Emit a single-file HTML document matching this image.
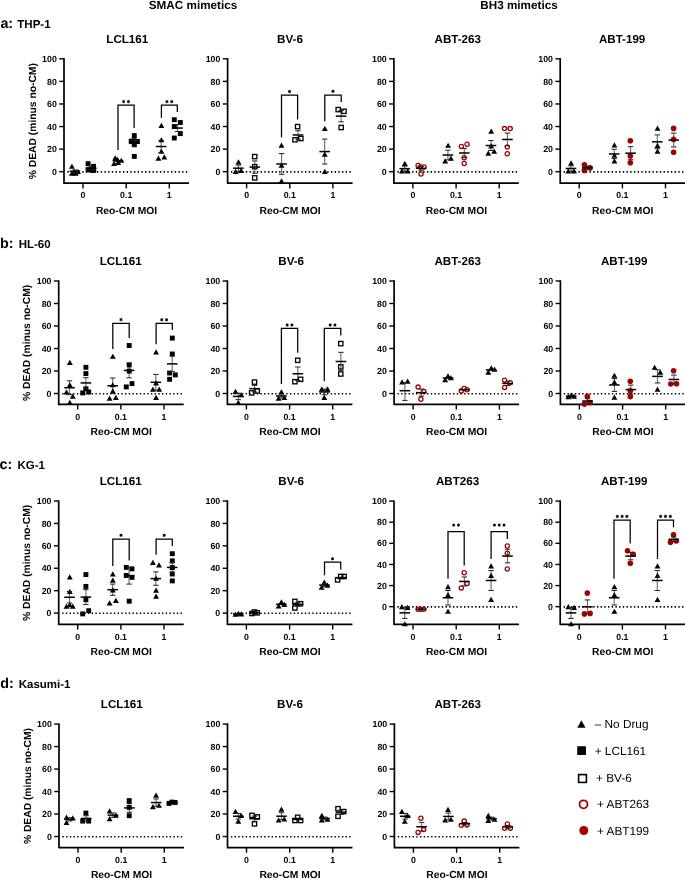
<!DOCTYPE html>
<html><head><meta charset="utf-8"><style>
html,body{margin:0;padding:0;background:#fff;}
svg{display:block;font-family:"Liberation Sans", sans-serif;will-change:transform;text-rendering:geometricPrecision;}
</style></head><body>
<svg width="685" height="879" viewBox="0 0 685 879">
<rect width="685" height="879" fill="#fff"/>
<text x="193.00" y="9.00" font-size="11.7" text-anchor="middle" font-weight="bold" fill="#000" >SMAC mimetics</text>
<text x="519.00" y="9.00" font-size="11.7" text-anchor="middle" font-weight="bold" fill="#000" >BH3 mimetics</text>
<line x1="64.00" y1="58.10" x2="64.00" y2="183.90" stroke="#000" stroke-width="1.7" />
<line x1="64.00" y1="183.20" x2="189.00" y2="183.20" stroke="#000" stroke-width="1.7" />
<line x1="59.20" y1="58.80" x2="64.00" y2="58.80" stroke="#000" stroke-width="1.4" />
<text x="56.80" y="61.95" font-size="8.8" text-anchor="end" font-weight="bold" fill="#000" >100</text>
<line x1="59.20" y1="81.38" x2="64.00" y2="81.38" stroke="#000" stroke-width="1.4" />
<text x="56.80" y="84.53" font-size="8.8" text-anchor="end" font-weight="bold" fill="#000" >80</text>
<line x1="59.20" y1="103.96" x2="64.00" y2="103.96" stroke="#000" stroke-width="1.4" />
<text x="56.80" y="107.11" font-size="8.8" text-anchor="end" font-weight="bold" fill="#000" >60</text>
<line x1="59.20" y1="126.54" x2="64.00" y2="126.54" stroke="#000" stroke-width="1.4" />
<text x="56.80" y="129.69" font-size="8.8" text-anchor="end" font-weight="bold" fill="#000" >40</text>
<line x1="59.20" y1="149.12" x2="64.00" y2="149.12" stroke="#000" stroke-width="1.4" />
<text x="56.80" y="152.27" font-size="8.8" text-anchor="end" font-weight="bold" fill="#000" >20</text>
<line x1="59.20" y1="171.70" x2="64.00" y2="171.70" stroke="#000" stroke-width="1.4" />
<text x="56.80" y="174.85" font-size="8.8" text-anchor="end" font-weight="bold" fill="#000" >0</text>
<line x1="83.00" y1="183.20" x2="83.00" y2="188.40" stroke="#000" stroke-width="1.4" />
<text x="83.00" y="198.10" font-size="8.8" text-anchor="middle" font-weight="bold" fill="#000" >0</text>
<line x1="126.20" y1="183.20" x2="126.20" y2="188.40" stroke="#000" stroke-width="1.4" />
<text x="126.20" y="198.10" font-size="8.8" text-anchor="middle" font-weight="bold" fill="#000" >0.1</text>
<line x1="169.30" y1="183.20" x2="169.30" y2="188.40" stroke="#000" stroke-width="1.4" />
<text x="169.30" y="198.10" font-size="8.8" text-anchor="middle" font-weight="bold" fill="#000" >1</text>
<line x1="67.40" y1="171.90" x2="189.00" y2="171.90" stroke="#000" stroke-width="1.6" stroke-dasharray="1.4 2.3"/>
<text x="127.25" y="42.65" font-size="11.6" text-anchor="middle" font-weight="bold" fill="#000" >LCL161</text>
<text x="126.50" y="214.40" font-size="10.3" text-anchor="middle" font-weight="bold" fill="#000" >Reo-CM MOI</text>
<text x="0" y="0" font-size="10.3" text-anchor="middle" font-weight="bold" fill="#000" transform="translate(35.70,121.20) rotate(-90)">% DEAD (minus no-CM)</text>
<line x1="74.80" y1="170.02" x2="74.80" y2="172.54" stroke="#6a6a6a" stroke-width="1.1" />
<path d="M71.90,163.64L74.85,168.84L68.95,168.84Z" fill="#000"/>
<path d="M71.90,170.54L74.85,175.74L68.95,175.74Z" fill="#000"/>
<path d="M75.70,170.54L78.65,175.74L72.75,175.74Z" fill="#000"/>
<path d="M78.00,168.74L80.95,173.94L75.05,173.94Z" fill="#000"/>
<path d="M74.50,168.64L77.45,173.84L71.55,173.84Z" fill="#000"/>
<line x1="72.10" y1="170.02" x2="77.50" y2="170.02" stroke="#222" stroke-width="1.0" />
<line x1="72.10" y1="172.54" x2="77.50" y2="172.54" stroke="#222" stroke-width="1.0" />
<line x1="69.50" y1="171.28" x2="80.10" y2="171.28" stroke="#000" stroke-width="1.5" />
<line x1="91.20" y1="166.74" x2="91.20" y2="169.38" stroke="#6a6a6a" stroke-width="1.1" />
<rect x="85.65" y="161.25" width="4.9" height="4.9" fill="#000"/>
<rect x="85.65" y="167.35" width="4.9" height="4.9" fill="#000"/>
<rect x="89.05" y="167.55" width="4.9" height="4.9" fill="#000"/>
<rect x="91.05" y="163.85" width="4.9" height="4.9" fill="#000"/>
<rect x="91.35" y="168.05" width="4.9" height="4.9" fill="#000"/>
<line x1="88.50" y1="166.74" x2="93.90" y2="166.74" stroke="#222" stroke-width="1.0" />
<line x1="88.50" y1="169.38" x2="93.90" y2="169.38" stroke="#222" stroke-width="1.0" />
<line x1="85.90" y1="168.06" x2="96.50" y2="168.06" stroke="#000" stroke-width="1.5" />
<line x1="118.00" y1="159.86" x2="118.00" y2="161.86" stroke="#6a6a6a" stroke-width="1.1" />
<path d="M115.20,155.24L118.15,160.44L112.25,160.44Z" fill="#000"/>
<path d="M114.10,160.74L117.05,165.94L111.15,165.94Z" fill="#000"/>
<path d="M118.20,159.74L121.15,164.94L115.25,164.94Z" fill="#000"/>
<path d="M121.30,157.64L124.25,162.84L118.35,162.84Z" fill="#000"/>
<path d="M117.50,156.64L120.45,161.84L114.55,161.84Z" fill="#000"/>
<line x1="112.70" y1="160.86" x2="123.30" y2="160.86" stroke="#000" stroke-width="1.5" />
<line x1="134.40" y1="140.46" x2="134.40" y2="146.21" stroke="#6a6a6a" stroke-width="1.1" />
<rect x="131.85" y="133.15" width="4.9" height="4.9" fill="#000"/>
<rect x="128.75" y="138.65" width="4.9" height="4.9" fill="#000"/>
<rect x="131.85" y="138.25" width="4.9" height="4.9" fill="#000"/>
<rect x="134.95" y="138.95" width="4.9" height="4.9" fill="#000"/>
<rect x="131.85" y="142.35" width="4.9" height="4.9" fill="#000"/>
<rect x="131.85" y="153.95" width="4.9" height="4.9" fill="#000"/>
<line x1="131.70" y1="140.46" x2="137.10" y2="140.46" stroke="#222" stroke-width="1.0" />
<line x1="131.70" y1="146.21" x2="137.10" y2="146.21" stroke="#222" stroke-width="1.0" />
<line x1="129.10" y1="143.33" x2="139.70" y2="143.33" stroke="#000" stroke-width="1.5" />
<line x1="161.10" y1="140.39" x2="161.10" y2="152.65" stroke="#6a6a6a" stroke-width="1.1" />
<path d="M161.40,122.84L164.35,128.04L158.45,128.04Z" fill="#000"/>
<path d="M161.40,137.14L164.35,142.34L158.45,142.34Z" fill="#000"/>
<path d="M161.40,148.64L164.35,153.84L158.45,153.84Z" fill="#000"/>
<path d="M158.40,155.44L161.35,160.64L155.45,160.64Z" fill="#000"/>
<path d="M164.30,154.24L167.25,159.44L161.35,159.44Z" fill="#000"/>
<line x1="158.40" y1="140.39" x2="163.80" y2="140.39" stroke="#222" stroke-width="1.0" />
<line x1="158.40" y1="152.65" x2="163.80" y2="152.65" stroke="#222" stroke-width="1.0" />
<line x1="155.80" y1="146.52" x2="166.40" y2="146.52" stroke="#000" stroke-width="1.5" />
<line x1="177.50" y1="124.65" x2="177.50" y2="131.47" stroke="#6a6a6a" stroke-width="1.1" />
<rect x="171.85" y="117.25" width="4.9" height="4.9" fill="#000"/>
<rect x="177.85" y="120.05" width="4.9" height="4.9" fill="#000"/>
<rect x="171.85" y="124.05" width="4.9" height="4.9" fill="#000"/>
<rect x="177.85" y="131.15" width="4.9" height="4.9" fill="#000"/>
<rect x="171.85" y="135.55" width="4.9" height="4.9" fill="#000"/>
<line x1="174.80" y1="124.65" x2="180.20" y2="124.65" stroke="#222" stroke-width="1.0" />
<line x1="174.80" y1="131.47" x2="180.20" y2="131.47" stroke="#222" stroke-width="1.0" />
<line x1="172.20" y1="128.06" x2="182.80" y2="128.06" stroke="#000" stroke-width="1.5" />
<path d="M118.00,149.90V105.10H134.10V128.10" fill="none" stroke="#000" stroke-width="1.25"/>
<circle cx="123.65" cy="101.60" r="1.2" fill="#000"/>
<path d="M123.65,99.90L123.65,103.30M125.12,100.75L122.18,102.45M125.12,102.45L122.18,100.75" stroke="#000" stroke-width="0.7" fill="none"/>
<circle cx="128.45" cy="101.60" r="1.2" fill="#000"/>
<path d="M128.45,99.90L128.45,103.30M129.92,100.75L126.98,102.45M129.92,102.45L126.98,100.75" stroke="#000" stroke-width="0.7" fill="none"/>
<path d="M161.40,117.70V105.10H177.30V112.10" fill="none" stroke="#000" stroke-width="1.25"/>
<circle cx="166.95" cy="101.60" r="1.2" fill="#000"/>
<path d="M166.95,99.90L166.95,103.30M168.42,100.75L165.48,102.45M168.42,102.45L165.48,100.75" stroke="#000" stroke-width="0.7" fill="none"/>
<circle cx="171.75" cy="101.60" r="1.2" fill="#000"/>
<path d="M171.75,99.90L171.75,103.30M173.22,100.75L170.28,102.45M173.22,102.45L170.28,100.75" stroke="#000" stroke-width="0.7" fill="none"/>
<line x1="227.60" y1="58.10" x2="227.60" y2="183.90" stroke="#000" stroke-width="1.7" />
<line x1="227.60" y1="183.20" x2="352.60" y2="183.20" stroke="#000" stroke-width="1.7" />
<line x1="222.80" y1="58.80" x2="227.60" y2="58.80" stroke="#000" stroke-width="1.4" />
<text x="220.40" y="61.95" font-size="8.8" text-anchor="end" font-weight="bold" fill="#000" >100</text>
<line x1="222.80" y1="81.38" x2="227.60" y2="81.38" stroke="#000" stroke-width="1.4" />
<text x="220.40" y="84.53" font-size="8.8" text-anchor="end" font-weight="bold" fill="#000" >80</text>
<line x1="222.80" y1="103.96" x2="227.60" y2="103.96" stroke="#000" stroke-width="1.4" />
<text x="220.40" y="107.11" font-size="8.8" text-anchor="end" font-weight="bold" fill="#000" >60</text>
<line x1="222.80" y1="126.54" x2="227.60" y2="126.54" stroke="#000" stroke-width="1.4" />
<text x="220.40" y="129.69" font-size="8.8" text-anchor="end" font-weight="bold" fill="#000" >40</text>
<line x1="222.80" y1="149.12" x2="227.60" y2="149.12" stroke="#000" stroke-width="1.4" />
<text x="220.40" y="152.27" font-size="8.8" text-anchor="end" font-weight="bold" fill="#000" >20</text>
<line x1="222.80" y1="171.70" x2="227.60" y2="171.70" stroke="#000" stroke-width="1.4" />
<text x="220.40" y="174.85" font-size="8.8" text-anchor="end" font-weight="bold" fill="#000" >0</text>
<line x1="246.60" y1="183.20" x2="246.60" y2="188.40" stroke="#000" stroke-width="1.4" />
<text x="246.60" y="198.10" font-size="8.8" text-anchor="middle" font-weight="bold" fill="#000" >0</text>
<line x1="289.80" y1="183.20" x2="289.80" y2="188.40" stroke="#000" stroke-width="1.4" />
<text x="289.80" y="198.10" font-size="8.8" text-anchor="middle" font-weight="bold" fill="#000" >0.1</text>
<line x1="332.90" y1="183.20" x2="332.90" y2="188.40" stroke="#000" stroke-width="1.4" />
<text x="332.90" y="198.10" font-size="8.8" text-anchor="middle" font-weight="bold" fill="#000" >1</text>
<line x1="231.00" y1="171.90" x2="352.60" y2="171.90" stroke="#000" stroke-width="1.6" stroke-dasharray="1.4 2.3"/>
<text x="290.00" y="42.65" font-size="11.6" text-anchor="middle" font-weight="bold" fill="#000" >BV-6</text>
<text x="290.10" y="214.40" font-size="10.3" text-anchor="middle" font-weight="bold" fill="#000" >Reo-CM MOI</text>
<line x1="238.40" y1="165.12" x2="238.40" y2="171.21" stroke="#6a6a6a" stroke-width="1.1" />
<path d="M238.50,159.24L241.45,164.44L235.55,164.44Z" fill="#000"/>
<path d="M235.60,168.84L238.55,174.04L232.65,174.04Z" fill="#000"/>
<path d="M241.10,167.84L244.05,173.04L238.15,173.04Z" fill="#000"/>
<line x1="235.70" y1="165.12" x2="241.10" y2="165.12" stroke="#222" stroke-width="1.0" />
<line x1="235.70" y1="171.21" x2="241.10" y2="171.21" stroke="#222" stroke-width="1.0" />
<line x1="233.10" y1="168.17" x2="243.70" y2="168.17" stroke="#000" stroke-width="1.5" />
<line x1="254.80" y1="160.92" x2="254.80" y2="173.22" stroke="#6a6a6a" stroke-width="1.1" />
<rect x="252.55" y="154.45" width="4.3" height="4.3" fill="none" stroke="#000" stroke-width="1.3"/>
<rect x="252.55" y="164.55" width="4.3" height="4.3" fill="none" stroke="#000" stroke-width="1.3"/>
<rect x="252.55" y="175.75" width="4.3" height="4.3" fill="none" stroke="#000" stroke-width="1.3"/>
<line x1="252.10" y1="160.92" x2="257.50" y2="160.92" stroke="#222" stroke-width="1.0" />
<line x1="252.10" y1="173.22" x2="257.50" y2="173.22" stroke="#222" stroke-width="1.0" />
<line x1="249.50" y1="167.07" x2="260.10" y2="167.07" stroke="#000" stroke-width="1.5" />
<line x1="281.60" y1="153.58" x2="281.60" y2="174.35" stroke="#6a6a6a" stroke-width="1.1" />
<path d="M281.50,142.44L284.45,147.64L278.55,147.64Z" fill="#000"/>
<path d="M281.50,162.54L284.45,167.74L278.55,167.74Z" fill="#000"/>
<path d="M281.50,178.34L284.45,183.54L278.55,183.54Z" fill="#000"/>
<line x1="278.90" y1="153.58" x2="284.30" y2="153.58" stroke="#222" stroke-width="1.0" />
<line x1="278.90" y1="174.35" x2="284.30" y2="174.35" stroke="#222" stroke-width="1.0" />
<line x1="276.30" y1="163.97" x2="286.90" y2="163.97" stroke="#000" stroke-width="1.5" />
<line x1="298.00" y1="130.77" x2="298.00" y2="139.17" stroke="#6a6a6a" stroke-width="1.1" />
<rect x="295.45" y="124.45" width="4.3" height="4.3" fill="none" stroke="#000" stroke-width="1.3"/>
<rect x="292.85" y="137.65" width="4.3" height="4.3" fill="none" stroke="#000" stroke-width="1.3"/>
<rect x="298.75" y="136.35" width="4.3" height="4.3" fill="none" stroke="#000" stroke-width="1.3"/>
<line x1="295.30" y1="130.77" x2="300.70" y2="130.77" stroke="#222" stroke-width="1.0" />
<line x1="295.30" y1="139.17" x2="300.70" y2="139.17" stroke="#222" stroke-width="1.0" />
<line x1="292.70" y1="134.97" x2="303.30" y2="134.97" stroke="#000" stroke-width="1.5" />
<line x1="324.70" y1="139.08" x2="324.70" y2="164.05" stroke="#6a6a6a" stroke-width="1.1" />
<path d="M324.80,125.84L327.75,131.04L321.85,131.04Z" fill="#000"/>
<path d="M324.80,151.44L327.75,156.64L321.85,156.64Z" fill="#000"/>
<path d="M324.80,168.84L327.75,174.04L321.85,174.04Z" fill="#000"/>
<line x1="322.00" y1="139.08" x2="327.40" y2="139.08" stroke="#222" stroke-width="1.0" />
<line x1="322.00" y1="164.05" x2="327.40" y2="164.05" stroke="#222" stroke-width="1.0" />
<line x1="319.40" y1="151.57" x2="330.00" y2="151.57" stroke="#000" stroke-width="1.5" />
<line x1="341.10" y1="110.43" x2="341.10" y2="121.84" stroke="#6a6a6a" stroke-width="1.1" />
<rect x="336.05" y="107.45" width="4.3" height="4.3" fill="none" stroke="#000" stroke-width="1.3"/>
<rect x="341.85" y="109.15" width="4.3" height="4.3" fill="none" stroke="#000" stroke-width="1.3"/>
<rect x="339.05" y="125.35" width="4.3" height="4.3" fill="none" stroke="#000" stroke-width="1.3"/>
<line x1="338.40" y1="110.43" x2="343.80" y2="110.43" stroke="#222" stroke-width="1.0" />
<line x1="338.40" y1="121.84" x2="343.80" y2="121.84" stroke="#222" stroke-width="1.0" />
<line x1="335.80" y1="116.13" x2="346.40" y2="116.13" stroke="#000" stroke-width="1.5" />
<path d="M281.50,137.40V95.00H297.60V119.40" fill="none" stroke="#000" stroke-width="1.25"/>
<circle cx="289.55" cy="91.50" r="1.2" fill="#000"/>
<path d="M289.55,89.80L289.55,93.20M291.02,90.65L288.08,92.35M291.02,92.35L288.08,90.65" stroke="#000" stroke-width="0.7" fill="none"/>
<path d="M324.80,121.20V95.00H341.20V102.10" fill="none" stroke="#000" stroke-width="1.25"/>
<circle cx="333.00" cy="91.30" r="1.2" fill="#000"/>
<path d="M333.00,89.60L333.00,93.00M334.47,90.45L331.53,92.15M334.47,92.15L331.53,90.45" stroke="#000" stroke-width="0.7" fill="none"/>
<line x1="393.90" y1="58.10" x2="393.90" y2="183.90" stroke="#000" stroke-width="1.7" />
<line x1="393.90" y1="183.20" x2="518.90" y2="183.20" stroke="#000" stroke-width="1.7" />
<line x1="389.10" y1="58.80" x2="393.90" y2="58.80" stroke="#000" stroke-width="1.4" />
<text x="386.70" y="61.95" font-size="8.8" text-anchor="end" font-weight="bold" fill="#000" >100</text>
<line x1="389.10" y1="81.38" x2="393.90" y2="81.38" stroke="#000" stroke-width="1.4" />
<text x="386.70" y="84.53" font-size="8.8" text-anchor="end" font-weight="bold" fill="#000" >80</text>
<line x1="389.10" y1="103.96" x2="393.90" y2="103.96" stroke="#000" stroke-width="1.4" />
<text x="386.70" y="107.11" font-size="8.8" text-anchor="end" font-weight="bold" fill="#000" >60</text>
<line x1="389.10" y1="126.54" x2="393.90" y2="126.54" stroke="#000" stroke-width="1.4" />
<text x="386.70" y="129.69" font-size="8.8" text-anchor="end" font-weight="bold" fill="#000" >40</text>
<line x1="389.10" y1="149.12" x2="393.90" y2="149.12" stroke="#000" stroke-width="1.4" />
<text x="386.70" y="152.27" font-size="8.8" text-anchor="end" font-weight="bold" fill="#000" >20</text>
<line x1="389.10" y1="171.70" x2="393.90" y2="171.70" stroke="#000" stroke-width="1.4" />
<text x="386.70" y="174.85" font-size="8.8" text-anchor="end" font-weight="bold" fill="#000" >0</text>
<line x1="412.90" y1="183.20" x2="412.90" y2="188.40" stroke="#000" stroke-width="1.4" />
<text x="412.90" y="198.10" font-size="8.8" text-anchor="middle" font-weight="bold" fill="#000" >0</text>
<line x1="456.10" y1="183.20" x2="456.10" y2="188.40" stroke="#000" stroke-width="1.4" />
<text x="456.10" y="198.10" font-size="8.8" text-anchor="middle" font-weight="bold" fill="#000" >0.1</text>
<line x1="499.20" y1="183.20" x2="499.20" y2="188.40" stroke="#000" stroke-width="1.4" />
<text x="499.20" y="198.10" font-size="8.8" text-anchor="middle" font-weight="bold" fill="#000" >1</text>
<line x1="397.30" y1="171.90" x2="518.90" y2="171.90" stroke="#000" stroke-width="1.6" stroke-dasharray="1.4 2.3"/>
<text x="457.75" y="42.65" font-size="11.6" text-anchor="middle" font-weight="bold" fill="#000" >ABT-263</text>
<text x="456.40" y="214.40" font-size="10.3" text-anchor="middle" font-weight="bold" fill="#000" >Reo-CM MOI</text>
<line x1="404.70" y1="166.17" x2="404.70" y2="171.10" stroke="#6a6a6a" stroke-width="1.1" />
<path d="M404.80,160.84L407.75,166.04L401.85,166.04Z" fill="#000"/>
<path d="M402.00,168.24L404.95,173.44L399.05,173.44Z" fill="#000"/>
<path d="M407.70,168.24L410.65,173.44L404.75,173.44Z" fill="#000"/>
<line x1="402.00" y1="166.17" x2="407.40" y2="166.17" stroke="#222" stroke-width="1.0" />
<line x1="402.00" y1="171.10" x2="407.40" y2="171.10" stroke="#222" stroke-width="1.0" />
<line x1="399.40" y1="168.63" x2="410.00" y2="168.63" stroke="#000" stroke-width="1.5" />
<line x1="421.10" y1="166.40" x2="421.10" y2="170.25" stroke="#6a6a6a" stroke-width="1.1" />
<circle cx="418.10" cy="165.40" r="2.1" fill="none" stroke="#a30000" stroke-width="1.3"/>
<circle cx="424.00" cy="166.90" r="2.1" fill="none" stroke="#a30000" stroke-width="1.3"/>
<circle cx="421.00" cy="174.00" r="2.1" fill="none" stroke="#a30000" stroke-width="1.3"/>
<circle cx="420.50" cy="167.00" r="2.1" fill="none" stroke="#a30000" stroke-width="1.3"/>
<line x1="418.40" y1="166.40" x2="423.80" y2="166.40" stroke="#222" stroke-width="1.0" />
<line x1="418.40" y1="170.25" x2="423.80" y2="170.25" stroke="#222" stroke-width="1.0" />
<line x1="415.80" y1="168.32" x2="426.40" y2="168.32" stroke="#000" stroke-width="1.5" />
<line x1="447.90" y1="150.20" x2="447.90" y2="159.87" stroke="#6a6a6a" stroke-width="1.1" />
<path d="M448.10,142.64L451.05,147.84L445.15,147.84Z" fill="#000"/>
<path d="M445.20,158.34L448.15,163.54L442.25,163.54Z" fill="#000"/>
<path d="M450.90,155.54L453.85,160.74L447.95,160.74Z" fill="#000"/>
<line x1="445.20" y1="150.20" x2="450.60" y2="150.20" stroke="#222" stroke-width="1.0" />
<line x1="445.20" y1="159.87" x2="450.60" y2="159.87" stroke="#222" stroke-width="1.0" />
<line x1="442.60" y1="155.03" x2="453.20" y2="155.03" stroke="#000" stroke-width="1.5" />
<line x1="464.30" y1="148.37" x2="464.30" y2="157.58" stroke="#6a6a6a" stroke-width="1.1" />
<circle cx="461.40" cy="146.40" r="2.1" fill="none" stroke="#a30000" stroke-width="1.3"/>
<circle cx="467.10" cy="144.20" r="2.1" fill="none" stroke="#a30000" stroke-width="1.3"/>
<circle cx="464.20" cy="157.80" r="2.1" fill="none" stroke="#a30000" stroke-width="1.3"/>
<circle cx="464.20" cy="163.50" r="2.1" fill="none" stroke="#a30000" stroke-width="1.3"/>
<line x1="461.60" y1="148.37" x2="467.00" y2="148.37" stroke="#222" stroke-width="1.0" />
<line x1="461.60" y1="157.58" x2="467.00" y2="157.58" stroke="#222" stroke-width="1.0" />
<line x1="459.00" y1="152.97" x2="469.60" y2="152.97" stroke="#000" stroke-width="1.5" />
<line x1="491.00" y1="140.54" x2="491.00" y2="150.51" stroke="#6a6a6a" stroke-width="1.1" />
<path d="M491.20,128.44L494.15,133.64L488.25,133.64Z" fill="#000"/>
<path d="M491.20,143.24L494.15,148.44L488.25,148.44Z" fill="#000"/>
<path d="M488.30,150.44L491.25,155.64L485.35,155.64Z" fill="#000"/>
<path d="M494.20,148.54L497.15,153.74L491.25,153.74Z" fill="#000"/>
<line x1="488.30" y1="140.54" x2="493.70" y2="140.54" stroke="#222" stroke-width="1.0" />
<line x1="488.30" y1="150.51" x2="493.70" y2="150.51" stroke="#222" stroke-width="1.0" />
<line x1="485.70" y1="145.53" x2="496.30" y2="145.53" stroke="#000" stroke-width="1.5" />
<line x1="507.40" y1="133.05" x2="507.40" y2="145.90" stroke="#6a6a6a" stroke-width="1.1" />
<circle cx="504.50" cy="128.60" r="2.1" fill="none" stroke="#a30000" stroke-width="1.3"/>
<circle cx="510.20" cy="128.60" r="2.1" fill="none" stroke="#a30000" stroke-width="1.3"/>
<circle cx="507.30" cy="147.00" r="2.1" fill="none" stroke="#a30000" stroke-width="1.3"/>
<circle cx="507.30" cy="153.70" r="2.1" fill="none" stroke="#a30000" stroke-width="1.3"/>
<line x1="504.70" y1="133.05" x2="510.10" y2="133.05" stroke="#222" stroke-width="1.0" />
<line x1="504.70" y1="145.90" x2="510.10" y2="145.90" stroke="#222" stroke-width="1.0" />
<line x1="502.10" y1="139.47" x2="512.70" y2="139.47" stroke="#000" stroke-width="1.5" />
<line x1="560.20" y1="58.10" x2="560.20" y2="183.90" stroke="#000" stroke-width="1.7" />
<line x1="560.20" y1="183.20" x2="685.20" y2="183.20" stroke="#000" stroke-width="1.7" />
<line x1="555.40" y1="58.80" x2="560.20" y2="58.80" stroke="#000" stroke-width="1.4" />
<text x="553.00" y="61.95" font-size="8.8" text-anchor="end" font-weight="bold" fill="#000" >100</text>
<line x1="555.40" y1="81.38" x2="560.20" y2="81.38" stroke="#000" stroke-width="1.4" />
<text x="553.00" y="84.53" font-size="8.8" text-anchor="end" font-weight="bold" fill="#000" >80</text>
<line x1="555.40" y1="103.96" x2="560.20" y2="103.96" stroke="#000" stroke-width="1.4" />
<text x="553.00" y="107.11" font-size="8.8" text-anchor="end" font-weight="bold" fill="#000" >60</text>
<line x1="555.40" y1="126.54" x2="560.20" y2="126.54" stroke="#000" stroke-width="1.4" />
<text x="553.00" y="129.69" font-size="8.8" text-anchor="end" font-weight="bold" fill="#000" >40</text>
<line x1="555.40" y1="149.12" x2="560.20" y2="149.12" stroke="#000" stroke-width="1.4" />
<text x="553.00" y="152.27" font-size="8.8" text-anchor="end" font-weight="bold" fill="#000" >20</text>
<line x1="555.40" y1="171.70" x2="560.20" y2="171.70" stroke="#000" stroke-width="1.4" />
<text x="553.00" y="174.85" font-size="8.8" text-anchor="end" font-weight="bold" fill="#000" >0</text>
<line x1="579.20" y1="183.20" x2="579.20" y2="188.40" stroke="#000" stroke-width="1.4" />
<text x="579.20" y="198.10" font-size="8.8" text-anchor="middle" font-weight="bold" fill="#000" >0</text>
<line x1="622.40" y1="183.20" x2="622.40" y2="188.40" stroke="#000" stroke-width="1.4" />
<text x="622.40" y="198.10" font-size="8.8" text-anchor="middle" font-weight="bold" fill="#000" >0.1</text>
<line x1="665.50" y1="183.20" x2="665.50" y2="188.40" stroke="#000" stroke-width="1.4" />
<text x="665.50" y="198.10" font-size="8.8" text-anchor="middle" font-weight="bold" fill="#000" >1</text>
<line x1="563.60" y1="171.90" x2="685.20" y2="171.90" stroke="#000" stroke-width="1.6" stroke-dasharray="1.4 2.3"/>
<text x="622.10" y="42.65" font-size="11.6" text-anchor="middle" font-weight="bold" fill="#000" >ABT-199</text>
<text x="622.70" y="214.40" font-size="10.3" text-anchor="middle" font-weight="bold" fill="#000" >Reo-CM MOI</text>
<line x1="571.00" y1="165.77" x2="571.00" y2="171.10" stroke="#6a6a6a" stroke-width="1.1" />
<path d="M571.10,160.24L574.05,165.44L568.15,165.44Z" fill="#000"/>
<path d="M568.30,168.24L571.25,173.44L565.35,173.44Z" fill="#000"/>
<path d="M574.00,168.24L576.95,173.44L571.05,173.44Z" fill="#000"/>
<line x1="568.30" y1="165.77" x2="573.70" y2="165.77" stroke="#222" stroke-width="1.0" />
<line x1="568.30" y1="171.10" x2="573.70" y2="171.10" stroke="#222" stroke-width="1.0" />
<line x1="565.70" y1="168.43" x2="576.30" y2="168.43" stroke="#000" stroke-width="1.5" />
<line x1="587.40" y1="166.02" x2="587.40" y2="169.32" stroke="#6a6a6a" stroke-width="1.1" />
<circle cx="584.40" cy="164.70" r="2.8" fill="#a30000"/>
<circle cx="584.40" cy="170.40" r="2.8" fill="#a30000"/>
<circle cx="590.10" cy="167.90" r="2.8" fill="#a30000"/>
<line x1="584.70" y1="166.02" x2="590.10" y2="166.02" stroke="#222" stroke-width="1.0" />
<line x1="584.70" y1="169.32" x2="590.10" y2="169.32" stroke="#222" stroke-width="1.0" />
<line x1="582.10" y1="167.67" x2="592.70" y2="167.67" stroke="#000" stroke-width="1.5" />
<line x1="614.20" y1="149.22" x2="614.20" y2="158.65" stroke="#6a6a6a" stroke-width="1.1" />
<path d="M614.40,142.24L617.35,147.44L611.45,147.44Z" fill="#000"/>
<path d="M614.40,152.64L617.35,157.84L611.45,157.84Z" fill="#000"/>
<path d="M614.40,158.34L617.35,163.54L611.45,163.54Z" fill="#000"/>
<line x1="611.50" y1="149.22" x2="616.90" y2="149.22" stroke="#222" stroke-width="1.0" />
<line x1="611.50" y1="158.65" x2="616.90" y2="158.65" stroke="#222" stroke-width="1.0" />
<line x1="608.90" y1="153.93" x2="619.50" y2="153.93" stroke="#000" stroke-width="1.5" />
<line x1="630.60" y1="146.66" x2="630.60" y2="159.74" stroke="#6a6a6a" stroke-width="1.1" />
<circle cx="630.30" cy="140.70" r="2.8" fill="#a30000"/>
<circle cx="630.30" cy="156.10" r="2.8" fill="#a30000"/>
<circle cx="630.30" cy="162.80" r="2.8" fill="#a30000"/>
<line x1="627.90" y1="146.66" x2="633.30" y2="146.66" stroke="#222" stroke-width="1.0" />
<line x1="627.90" y1="159.74" x2="633.30" y2="159.74" stroke="#222" stroke-width="1.0" />
<line x1="625.30" y1="153.20" x2="635.90" y2="153.20" stroke="#000" stroke-width="1.5" />
<line x1="657.30" y1="134.92" x2="657.30" y2="148.75" stroke="#6a6a6a" stroke-width="1.1" />
<path d="M657.50,125.54L660.45,130.74L654.55,130.74Z" fill="#000"/>
<path d="M657.50,142.84L660.45,148.04L654.55,148.04Z" fill="#000"/>
<path d="M657.50,148.54L660.45,153.74L654.55,153.74Z" fill="#000"/>
<line x1="654.60" y1="134.92" x2="660.00" y2="134.92" stroke="#222" stroke-width="1.0" />
<line x1="654.60" y1="148.75" x2="660.00" y2="148.75" stroke="#222" stroke-width="1.0" />
<line x1="652.00" y1="141.83" x2="662.60" y2="141.83" stroke="#000" stroke-width="1.5" />
<line x1="673.70" y1="133.13" x2="673.70" y2="146.94" stroke="#6a6a6a" stroke-width="1.1" />
<circle cx="673.60" cy="128.40" r="2.8" fill="#a30000"/>
<circle cx="673.60" cy="139.40" r="2.8" fill="#a30000"/>
<circle cx="673.60" cy="152.30" r="2.8" fill="#a30000"/>
<line x1="671.00" y1="133.13" x2="676.40" y2="133.13" stroke="#222" stroke-width="1.0" />
<line x1="671.00" y1="146.94" x2="676.40" y2="146.94" stroke="#222" stroke-width="1.0" />
<line x1="668.40" y1="140.03" x2="679.00" y2="140.03" stroke="#000" stroke-width="1.5" />
<text x="0.40" y="27.80" font-size="14.3" text-anchor="start" font-weight="bold" fill="#000" >a:</text>
<text x="17.30" y="27.80" font-size="11.5" text-anchor="start" font-weight="bold" fill="#000" >THP-1</text>
<line x1="58.70" y1="280.30" x2="58.70" y2="405.10" stroke="#000" stroke-width="1.7" />
<line x1="58.70" y1="404.40" x2="183.70" y2="404.40" stroke="#000" stroke-width="1.7" />
<line x1="53.90" y1="281.00" x2="58.70" y2="281.00" stroke="#000" stroke-width="1.4" />
<text x="51.50" y="284.15" font-size="8.8" text-anchor="end" font-weight="bold" fill="#000" >100</text>
<line x1="53.90" y1="303.50" x2="58.70" y2="303.50" stroke="#000" stroke-width="1.4" />
<text x="51.50" y="306.65" font-size="8.8" text-anchor="end" font-weight="bold" fill="#000" >80</text>
<line x1="53.90" y1="326.00" x2="58.70" y2="326.00" stroke="#000" stroke-width="1.4" />
<text x="51.50" y="329.15" font-size="8.8" text-anchor="end" font-weight="bold" fill="#000" >60</text>
<line x1="53.90" y1="348.50" x2="58.70" y2="348.50" stroke="#000" stroke-width="1.4" />
<text x="51.50" y="351.65" font-size="8.8" text-anchor="end" font-weight="bold" fill="#000" >40</text>
<line x1="53.90" y1="371.00" x2="58.70" y2="371.00" stroke="#000" stroke-width="1.4" />
<text x="51.50" y="374.15" font-size="8.8" text-anchor="end" font-weight="bold" fill="#000" >20</text>
<line x1="53.90" y1="393.50" x2="58.70" y2="393.50" stroke="#000" stroke-width="1.4" />
<text x="51.50" y="396.65" font-size="8.8" text-anchor="end" font-weight="bold" fill="#000" >0</text>
<line x1="77.70" y1="404.40" x2="77.70" y2="409.60" stroke="#000" stroke-width="1.4" />
<text x="77.70" y="419.90" font-size="8.8" text-anchor="middle" font-weight="bold" fill="#000" >0</text>
<line x1="120.90" y1="404.40" x2="120.90" y2="409.60" stroke="#000" stroke-width="1.4" />
<text x="120.90" y="419.90" font-size="8.8" text-anchor="middle" font-weight="bold" fill="#000" >0.1</text>
<line x1="164.00" y1="404.40" x2="164.00" y2="409.60" stroke="#000" stroke-width="1.4" />
<text x="164.00" y="419.90" font-size="8.8" text-anchor="middle" font-weight="bold" fill="#000" >1</text>
<line x1="62.10" y1="393.70" x2="183.70" y2="393.70" stroke="#000" stroke-width="1.6" stroke-dasharray="1.4 2.3"/>
<text x="120.70" y="264.60" font-size="11.6" text-anchor="middle" font-weight="bold" fill="#000" >LCL161</text>
<text x="121.20" y="435.30" font-size="10.3" text-anchor="middle" font-weight="bold" fill="#000" >Reo-CM MOI</text>
<text x="0" y="0" font-size="10.3" text-anchor="middle" font-weight="bold" fill="#000" transform="translate(30.40,342.90) rotate(-90)">% DEAD (minus no-CM)</text>
<line x1="69.50" y1="380.85" x2="69.50" y2="394.67" stroke="#6a6a6a" stroke-width="1.1" />
<path d="M69.80,359.74L72.75,364.94L66.85,364.94Z" fill="#000"/>
<path d="M69.80,382.14L72.75,387.34L66.85,387.34Z" fill="#000"/>
<path d="M66.50,389.34L69.45,394.54L63.55,394.54Z" fill="#000"/>
<path d="M72.80,393.54L75.75,398.74L69.85,398.74Z" fill="#000"/>
<path d="M69.80,399.74L72.75,404.94L66.85,404.94Z" fill="#000"/>
<line x1="66.80" y1="380.85" x2="72.20" y2="380.85" stroke="#222" stroke-width="1.0" />
<line x1="66.80" y1="394.67" x2="72.20" y2="394.67" stroke="#222" stroke-width="1.0" />
<line x1="64.20" y1="387.76" x2="74.80" y2="387.76" stroke="#000" stroke-width="1.5" />
<line x1="85.90" y1="377.69" x2="85.90" y2="388.15" stroke="#6a6a6a" stroke-width="1.1" />
<rect x="83.45" y="364.85" width="4.9" height="4.9" fill="#000"/>
<rect x="83.45" y="371.15" width="4.9" height="4.9" fill="#000"/>
<rect x="83.45" y="386.35" width="4.9" height="4.9" fill="#000"/>
<rect x="80.25" y="390.45" width="4.9" height="4.9" fill="#000"/>
<rect x="86.25" y="389.55" width="4.9" height="4.9" fill="#000"/>
<line x1="83.20" y1="377.69" x2="88.60" y2="377.69" stroke="#222" stroke-width="1.0" />
<line x1="83.20" y1="388.15" x2="88.60" y2="388.15" stroke="#222" stroke-width="1.0" />
<line x1="80.60" y1="382.92" x2="91.20" y2="382.92" stroke="#000" stroke-width="1.5" />
<line x1="112.70" y1="378.04" x2="112.70" y2="393.44" stroke="#6a6a6a" stroke-width="1.1" />
<path d="M112.80,353.64L115.75,358.84L109.85,358.84Z" fill="#000"/>
<path d="M112.80,382.14L115.75,387.34L109.85,387.34Z" fill="#000"/>
<path d="M112.80,388.34L115.75,393.54L109.85,393.54Z" fill="#000"/>
<path d="M109.60,395.44L112.55,400.64L106.65,400.64Z" fill="#000"/>
<path d="M115.90,394.84L118.85,400.04L112.95,400.04Z" fill="#000"/>
<line x1="110.00" y1="378.04" x2="115.40" y2="378.04" stroke="#222" stroke-width="1.0" />
<line x1="110.00" y1="393.44" x2="115.40" y2="393.44" stroke="#222" stroke-width="1.0" />
<line x1="107.40" y1="385.74" x2="118.00" y2="385.74" stroke="#000" stroke-width="1.5" />
<line x1="129.10" y1="363.02" x2="129.10" y2="377.82" stroke="#6a6a6a" stroke-width="1.1" />
<rect x="126.75" y="343.05" width="4.9" height="4.9" fill="#000"/>
<rect x="126.75" y="362.55" width="4.9" height="4.9" fill="#000"/>
<rect x="126.75" y="368.65" width="4.9" height="4.9" fill="#000"/>
<rect x="123.85" y="384.45" width="4.9" height="4.9" fill="#000"/>
<rect x="129.55" y="381.15" width="4.9" height="4.9" fill="#000"/>
<line x1="126.40" y1="363.02" x2="131.80" y2="363.02" stroke="#222" stroke-width="1.0" />
<line x1="126.40" y1="377.82" x2="131.80" y2="377.82" stroke="#222" stroke-width="1.0" />
<line x1="123.80" y1="370.42" x2="134.40" y2="370.42" stroke="#000" stroke-width="1.5" />
<line x1="155.80" y1="374.40" x2="155.80" y2="390.20" stroke="#6a6a6a" stroke-width="1.1" />
<path d="M156.10,349.24L159.05,354.44L153.15,354.44Z" fill="#000"/>
<path d="M156.10,380.24L159.05,385.44L153.15,385.44Z" fill="#000"/>
<path d="M152.90,386.44L155.85,391.64L149.95,391.64Z" fill="#000"/>
<path d="M159.20,386.44L162.15,391.64L156.25,391.64Z" fill="#000"/>
<path d="M156.10,394.84L159.05,400.04L153.15,400.04Z" fill="#000"/>
<line x1="153.10" y1="374.40" x2="158.50" y2="374.40" stroke="#222" stroke-width="1.0" />
<line x1="153.10" y1="390.20" x2="158.50" y2="390.20" stroke="#222" stroke-width="1.0" />
<line x1="150.50" y1="382.30" x2="161.10" y2="382.30" stroke="#000" stroke-width="1.5" />
<line x1="172.20" y1="356.10" x2="172.20" y2="371.62" stroke="#6a6a6a" stroke-width="1.1" />
<rect x="169.85" y="335.65" width="4.9" height="4.9" fill="#000"/>
<rect x="169.85" y="351.55" width="4.9" height="4.9" fill="#000"/>
<rect x="167.15" y="370.55" width="4.9" height="4.9" fill="#000"/>
<rect x="172.85" y="372.45" width="4.9" height="4.9" fill="#000"/>
<rect x="167.15" y="376.85" width="4.9" height="4.9" fill="#000"/>
<line x1="169.50" y1="356.10" x2="174.90" y2="356.10" stroke="#222" stroke-width="1.0" />
<line x1="169.50" y1="371.62" x2="174.90" y2="371.62" stroke="#222" stroke-width="1.0" />
<line x1="166.90" y1="363.86" x2="177.50" y2="363.86" stroke="#000" stroke-width="1.5" />
<path d="M112.80,348.90V323.30H129.20V338.10" fill="none" stroke="#000" stroke-width="1.25"/>
<circle cx="121.00" cy="319.60" r="1.2" fill="#000"/>
<path d="M121.00,317.90L121.00,321.30M122.47,318.75L119.53,320.45M122.47,320.45L119.53,318.75" stroke="#000" stroke-width="0.7" fill="none"/>
<path d="M156.10,344.20V323.30H172.30V329.90" fill="none" stroke="#000" stroke-width="1.25"/>
<circle cx="161.80" cy="319.80" r="1.2" fill="#000"/>
<path d="M161.80,318.10L161.80,321.50M163.27,318.95L160.33,320.65M163.27,320.65L160.33,318.95" stroke="#000" stroke-width="0.7" fill="none"/>
<circle cx="166.60" cy="319.80" r="1.2" fill="#000"/>
<path d="M166.60,318.10L166.60,321.50M168.07,318.95L165.13,320.65M168.07,320.65L165.13,318.95" stroke="#000" stroke-width="0.7" fill="none"/>
<line x1="227.40" y1="280.30" x2="227.40" y2="405.10" stroke="#000" stroke-width="1.7" />
<line x1="227.40" y1="404.40" x2="352.40" y2="404.40" stroke="#000" stroke-width="1.7" />
<line x1="222.60" y1="281.00" x2="227.40" y2="281.00" stroke="#000" stroke-width="1.4" />
<text x="220.20" y="284.15" font-size="8.8" text-anchor="end" font-weight="bold" fill="#000" >100</text>
<line x1="222.60" y1="303.50" x2="227.40" y2="303.50" stroke="#000" stroke-width="1.4" />
<text x="220.20" y="306.65" font-size="8.8" text-anchor="end" font-weight="bold" fill="#000" >80</text>
<line x1="222.60" y1="326.00" x2="227.40" y2="326.00" stroke="#000" stroke-width="1.4" />
<text x="220.20" y="329.15" font-size="8.8" text-anchor="end" font-weight="bold" fill="#000" >60</text>
<line x1="222.60" y1="348.50" x2="227.40" y2="348.50" stroke="#000" stroke-width="1.4" />
<text x="220.20" y="351.65" font-size="8.8" text-anchor="end" font-weight="bold" fill="#000" >40</text>
<line x1="222.60" y1="371.00" x2="227.40" y2="371.00" stroke="#000" stroke-width="1.4" />
<text x="220.20" y="374.15" font-size="8.8" text-anchor="end" font-weight="bold" fill="#000" >20</text>
<line x1="222.60" y1="393.50" x2="227.40" y2="393.50" stroke="#000" stroke-width="1.4" />
<text x="220.20" y="396.65" font-size="8.8" text-anchor="end" font-weight="bold" fill="#000" >0</text>
<line x1="246.40" y1="404.40" x2="246.40" y2="409.60" stroke="#000" stroke-width="1.4" />
<text x="246.40" y="419.90" font-size="8.8" text-anchor="middle" font-weight="bold" fill="#000" >0</text>
<line x1="289.60" y1="404.40" x2="289.60" y2="409.60" stroke="#000" stroke-width="1.4" />
<text x="289.60" y="419.90" font-size="8.8" text-anchor="middle" font-weight="bold" fill="#000" >0.1</text>
<line x1="332.70" y1="404.40" x2="332.70" y2="409.60" stroke="#000" stroke-width="1.4" />
<text x="332.70" y="419.90" font-size="8.8" text-anchor="middle" font-weight="bold" fill="#000" >1</text>
<line x1="230.80" y1="393.70" x2="352.40" y2="393.70" stroke="#000" stroke-width="1.6" stroke-dasharray="1.4 2.3"/>
<text x="291.20" y="264.60" font-size="11.6" text-anchor="middle" font-weight="bold" fill="#000" >BV-6</text>
<text x="289.90" y="435.30" font-size="10.3" text-anchor="middle" font-weight="bold" fill="#000" >Reo-CM MOI</text>
<line x1="238.20" y1="393.15" x2="238.20" y2="399.65" stroke="#6a6a6a" stroke-width="1.1" />
<path d="M235.50,388.74L238.45,393.94L232.55,393.94Z" fill="#000"/>
<path d="M241.20,392.14L244.15,397.34L238.25,397.34Z" fill="#000"/>
<path d="M238.30,399.74L241.25,404.94L235.35,404.94Z" fill="#000"/>
<line x1="235.50" y1="393.15" x2="240.90" y2="393.15" stroke="#222" stroke-width="1.0" />
<line x1="235.50" y1="399.65" x2="240.90" y2="399.65" stroke="#222" stroke-width="1.0" />
<line x1="232.90" y1="396.40" x2="243.50" y2="396.40" stroke="#000" stroke-width="1.5" />
<line x1="254.60" y1="385.34" x2="254.60" y2="392.00" stroke="#6a6a6a" stroke-width="1.1" />
<rect x="252.35" y="379.95" width="4.3" height="4.3" fill="none" stroke="#000" stroke-width="1.3"/>
<rect x="249.45" y="390.75" width="4.3" height="4.3" fill="none" stroke="#000" stroke-width="1.3"/>
<rect x="255.15" y="388.85" width="4.3" height="4.3" fill="none" stroke="#000" stroke-width="1.3"/>
<line x1="251.90" y1="385.34" x2="257.30" y2="385.34" stroke="#222" stroke-width="1.0" />
<line x1="251.90" y1="392.00" x2="257.30" y2="392.00" stroke="#222" stroke-width="1.0" />
<line x1="249.30" y1="388.67" x2="259.90" y2="388.67" stroke="#000" stroke-width="1.5" />
<line x1="281.40" y1="393.99" x2="281.40" y2="398.01" stroke="#6a6a6a" stroke-width="1.1" />
<path d="M281.40,389.14L284.35,394.34L278.45,394.34Z" fill="#000"/>
<path d="M278.60,395.44L281.55,400.64L275.65,400.64Z" fill="#000"/>
<path d="M284.30,394.84L287.25,400.04L281.35,400.04Z" fill="#000"/>
<line x1="278.70" y1="393.99" x2="284.10" y2="393.99" stroke="#222" stroke-width="1.0" />
<line x1="278.70" y1="398.01" x2="284.10" y2="398.01" stroke="#222" stroke-width="1.0" />
<line x1="276.10" y1="396.00" x2="286.70" y2="396.00" stroke="#000" stroke-width="1.5" />
<line x1="297.80" y1="367.00" x2="297.80" y2="380.54" stroke="#6a6a6a" stroke-width="1.1" />
<rect x="295.55" y="358.15" width="4.3" height="4.3" fill="none" stroke="#000" stroke-width="1.3"/>
<rect x="292.75" y="379.55" width="4.3" height="4.3" fill="none" stroke="#000" stroke-width="1.3"/>
<rect x="298.45" y="377.15" width="4.3" height="4.3" fill="none" stroke="#000" stroke-width="1.3"/>
<line x1="295.10" y1="367.00" x2="300.50" y2="367.00" stroke="#222" stroke-width="1.0" />
<line x1="295.10" y1="380.54" x2="300.50" y2="380.54" stroke="#222" stroke-width="1.0" />
<line x1="292.50" y1="373.77" x2="303.10" y2="373.77" stroke="#000" stroke-width="1.5" />
<line x1="324.50" y1="389.10" x2="324.50" y2="394.83" stroke="#6a6a6a" stroke-width="1.1" />
<path d="M321.80,386.24L324.75,391.44L318.85,391.44Z" fill="#000"/>
<path d="M327.50,386.24L330.45,391.44L324.55,391.44Z" fill="#000"/>
<path d="M324.30,394.84L327.25,400.04L321.35,400.04Z" fill="#000"/>
<line x1="321.80" y1="389.10" x2="327.20" y2="389.10" stroke="#222" stroke-width="1.0" />
<line x1="321.80" y1="394.83" x2="327.20" y2="394.83" stroke="#222" stroke-width="1.0" />
<line x1="319.20" y1="391.97" x2="329.80" y2="391.97" stroke="#000" stroke-width="1.5" />
<line x1="340.90" y1="352.32" x2="340.90" y2="370.68" stroke="#6a6a6a" stroke-width="1.1" />
<rect x="338.65" y="341.45" width="4.3" height="4.3" fill="none" stroke="#000" stroke-width="1.3"/>
<rect x="338.65" y="364.75" width="4.3" height="4.3" fill="none" stroke="#000" stroke-width="1.3"/>
<rect x="338.65" y="371.85" width="4.3" height="4.3" fill="none" stroke="#000" stroke-width="1.3"/>
<line x1="338.20" y1="352.32" x2="343.60" y2="352.32" stroke="#222" stroke-width="1.0" />
<line x1="338.20" y1="370.68" x2="343.60" y2="370.68" stroke="#222" stroke-width="1.0" />
<line x1="335.60" y1="361.50" x2="346.20" y2="361.50" stroke="#000" stroke-width="1.5" />
<path d="M281.40,384.00V328.40H297.70V352.70" fill="none" stroke="#000" stroke-width="1.25"/>
<circle cx="287.15" cy="325.00" r="1.2" fill="#000"/>
<path d="M287.15,323.30L287.15,326.70M288.62,324.15L285.68,325.85M288.62,325.85L285.68,324.15" stroke="#000" stroke-width="0.7" fill="none"/>
<circle cx="291.95" cy="325.00" r="1.2" fill="#000"/>
<path d="M291.95,323.30L291.95,326.70M293.42,324.15L290.48,325.85M293.42,325.85L290.48,324.15" stroke="#000" stroke-width="0.7" fill="none"/>
<path d="M324.30,381.20V328.40H340.80V335.60" fill="none" stroke="#000" stroke-width="1.25"/>
<circle cx="330.15" cy="325.00" r="1.2" fill="#000"/>
<path d="M330.15,323.30L330.15,326.70M331.62,324.15L328.68,325.85M331.62,325.85L328.68,324.15" stroke="#000" stroke-width="0.7" fill="none"/>
<circle cx="334.95" cy="325.00" r="1.2" fill="#000"/>
<path d="M334.95,323.30L334.95,326.70M336.42,324.15L333.48,325.85M336.42,325.85L333.48,324.15" stroke="#000" stroke-width="0.7" fill="none"/>
<line x1="394.10" y1="280.30" x2="394.10" y2="405.10" stroke="#000" stroke-width="1.7" />
<line x1="394.10" y1="404.40" x2="519.10" y2="404.40" stroke="#000" stroke-width="1.7" />
<line x1="389.30" y1="281.00" x2="394.10" y2="281.00" stroke="#000" stroke-width="1.4" />
<text x="386.90" y="284.15" font-size="8.8" text-anchor="end" font-weight="bold" fill="#000" >100</text>
<line x1="389.30" y1="303.50" x2="394.10" y2="303.50" stroke="#000" stroke-width="1.4" />
<text x="386.90" y="306.65" font-size="8.8" text-anchor="end" font-weight="bold" fill="#000" >80</text>
<line x1="389.30" y1="326.00" x2="394.10" y2="326.00" stroke="#000" stroke-width="1.4" />
<text x="386.90" y="329.15" font-size="8.8" text-anchor="end" font-weight="bold" fill="#000" >60</text>
<line x1="389.30" y1="348.50" x2="394.10" y2="348.50" stroke="#000" stroke-width="1.4" />
<text x="386.90" y="351.65" font-size="8.8" text-anchor="end" font-weight="bold" fill="#000" >40</text>
<line x1="389.30" y1="371.00" x2="394.10" y2="371.00" stroke="#000" stroke-width="1.4" />
<text x="386.90" y="374.15" font-size="8.8" text-anchor="end" font-weight="bold" fill="#000" >20</text>
<line x1="389.30" y1="393.50" x2="394.10" y2="393.50" stroke="#000" stroke-width="1.4" />
<text x="386.90" y="396.65" font-size="8.8" text-anchor="end" font-weight="bold" fill="#000" >0</text>
<line x1="413.10" y1="404.40" x2="413.10" y2="409.60" stroke="#000" stroke-width="1.4" />
<text x="413.10" y="419.90" font-size="8.8" text-anchor="middle" font-weight="bold" fill="#000" >0</text>
<line x1="456.30" y1="404.40" x2="456.30" y2="409.60" stroke="#000" stroke-width="1.4" />
<text x="456.30" y="419.90" font-size="8.8" text-anchor="middle" font-weight="bold" fill="#000" >0.1</text>
<line x1="499.40" y1="404.40" x2="499.40" y2="409.60" stroke="#000" stroke-width="1.4" />
<text x="499.40" y="419.90" font-size="8.8" text-anchor="middle" font-weight="bold" fill="#000" >1</text>
<line x1="397.50" y1="393.70" x2="519.10" y2="393.70" stroke="#000" stroke-width="1.6" stroke-dasharray="1.4 2.3"/>
<text x="457.65" y="264.60" font-size="11.6" text-anchor="middle" font-weight="bold" fill="#000" >ABT-263</text>
<text x="456.60" y="435.30" font-size="10.3" text-anchor="middle" font-weight="bold" fill="#000" >Reo-CM MOI</text>
<line x1="404.90" y1="382.60" x2="404.90" y2="400.40" stroke="#6a6a6a" stroke-width="1.1" />
<path d="M402.10,379.24L405.05,384.44L399.15,384.44Z" fill="#000"/>
<path d="M407.60,378.54L410.55,383.74L404.65,383.74Z" fill="#000"/>
<line x1="402.20" y1="382.60" x2="407.60" y2="382.60" stroke="#222" stroke-width="1.0" />
<line x1="402.20" y1="400.40" x2="407.60" y2="400.40" stroke="#222" stroke-width="1.0" />
<line x1="399.60" y1="390.70" x2="410.20" y2="390.70" stroke="#000" stroke-width="1.5" />
<line x1="421.30" y1="389.10" x2="421.30" y2="396.16" stroke="#6a6a6a" stroke-width="1.1" />
<circle cx="418.10" cy="387.10" r="2.1" fill="none" stroke="#a30000" stroke-width="1.3"/>
<circle cx="423.90" cy="391.60" r="2.1" fill="none" stroke="#a30000" stroke-width="1.3"/>
<circle cx="420.90" cy="399.20" r="2.1" fill="none" stroke="#a30000" stroke-width="1.3"/>
<line x1="418.60" y1="389.10" x2="424.00" y2="389.10" stroke="#222" stroke-width="1.0" />
<line x1="418.60" y1="396.16" x2="424.00" y2="396.16" stroke="#222" stroke-width="1.0" />
<line x1="416.00" y1="392.63" x2="426.60" y2="392.63" stroke="#000" stroke-width="1.5" />
<line x1="448.10" y1="376.90" x2="448.10" y2="379.10" stroke="#6a6a6a" stroke-width="1.1" />
<path d="M448.00,373.24L450.95,378.44L445.05,378.44Z" fill="#000"/>
<path d="M445.20,377.04L448.15,382.24L442.25,382.24Z" fill="#000"/>
<path d="M450.90,375.14L453.85,380.34L447.95,380.34Z" fill="#000"/>
<line x1="442.80" y1="378.00" x2="453.40" y2="378.00" stroke="#000" stroke-width="1.5" />
<line x1="464.50" y1="388.94" x2="464.50" y2="390.39" stroke="#6a6a6a" stroke-width="1.1" />
<circle cx="461.30" cy="390.90" r="2.1" fill="none" stroke="#a30000" stroke-width="1.3"/>
<circle cx="464.20" cy="388.40" r="2.1" fill="none" stroke="#a30000" stroke-width="1.3"/>
<circle cx="467.00" cy="389.70" r="2.1" fill="none" stroke="#a30000" stroke-width="1.3"/>
<line x1="459.20" y1="389.67" x2="469.80" y2="389.67" stroke="#000" stroke-width="1.5" />
<line x1="491.20" y1="368.69" x2="491.20" y2="371.17" stroke="#6a6a6a" stroke-width="1.1" />
<path d="M491.30,365.24L494.25,370.44L488.35,370.44Z" fill="#000"/>
<path d="M488.30,369.44L491.25,374.64L485.35,374.64Z" fill="#000"/>
<path d="M494.50,366.54L497.45,371.74L491.55,371.74Z" fill="#000"/>
<line x1="485.90" y1="369.93" x2="496.50" y2="369.93" stroke="#000" stroke-width="1.5" />
<line x1="507.60" y1="381.32" x2="507.60" y2="385.54" stroke="#6a6a6a" stroke-width="1.1" />
<circle cx="504.60" cy="380.20" r="2.1" fill="none" stroke="#a30000" stroke-width="1.3"/>
<circle cx="510.30" cy="382.70" r="2.1" fill="none" stroke="#a30000" stroke-width="1.3"/>
<circle cx="504.60" cy="387.40" r="2.1" fill="none" stroke="#a30000" stroke-width="1.3"/>
<line x1="504.90" y1="381.32" x2="510.30" y2="381.32" stroke="#222" stroke-width="1.0" />
<line x1="504.90" y1="385.54" x2="510.30" y2="385.54" stroke="#222" stroke-width="1.0" />
<line x1="502.30" y1="383.43" x2="512.90" y2="383.43" stroke="#000" stroke-width="1.5" />
<line x1="560.40" y1="280.30" x2="560.40" y2="405.10" stroke="#000" stroke-width="1.7" />
<line x1="560.40" y1="404.40" x2="685.40" y2="404.40" stroke="#000" stroke-width="1.7" />
<line x1="555.60" y1="281.00" x2="560.40" y2="281.00" stroke="#000" stroke-width="1.4" />
<text x="553.20" y="284.15" font-size="8.8" text-anchor="end" font-weight="bold" fill="#000" >100</text>
<line x1="555.60" y1="303.50" x2="560.40" y2="303.50" stroke="#000" stroke-width="1.4" />
<text x="553.20" y="306.65" font-size="8.8" text-anchor="end" font-weight="bold" fill="#000" >80</text>
<line x1="555.60" y1="326.00" x2="560.40" y2="326.00" stroke="#000" stroke-width="1.4" />
<text x="553.20" y="329.15" font-size="8.8" text-anchor="end" font-weight="bold" fill="#000" >60</text>
<line x1="555.60" y1="348.50" x2="560.40" y2="348.50" stroke="#000" stroke-width="1.4" />
<text x="553.20" y="351.65" font-size="8.8" text-anchor="end" font-weight="bold" fill="#000" >40</text>
<line x1="555.60" y1="371.00" x2="560.40" y2="371.00" stroke="#000" stroke-width="1.4" />
<text x="553.20" y="374.15" font-size="8.8" text-anchor="end" font-weight="bold" fill="#000" >20</text>
<line x1="555.60" y1="393.50" x2="560.40" y2="393.50" stroke="#000" stroke-width="1.4" />
<text x="553.20" y="396.65" font-size="8.8" text-anchor="end" font-weight="bold" fill="#000" >0</text>
<line x1="579.40" y1="404.40" x2="579.40" y2="409.60" stroke="#000" stroke-width="1.4" />
<text x="579.40" y="419.90" font-size="8.8" text-anchor="middle" font-weight="bold" fill="#000" >0</text>
<line x1="622.60" y1="404.40" x2="622.60" y2="409.60" stroke="#000" stroke-width="1.4" />
<text x="622.60" y="419.90" font-size="8.8" text-anchor="middle" font-weight="bold" fill="#000" >0.1</text>
<line x1="665.70" y1="404.40" x2="665.70" y2="409.60" stroke="#000" stroke-width="1.4" />
<text x="665.70" y="419.90" font-size="8.8" text-anchor="middle" font-weight="bold" fill="#000" >1</text>
<line x1="563.80" y1="393.70" x2="685.40" y2="393.70" stroke="#000" stroke-width="1.6" stroke-dasharray="1.4 2.3"/>
<text x="624.20" y="264.60" font-size="11.6" text-anchor="middle" font-weight="bold" fill="#000" >ABT-199</text>
<text x="622.90" y="435.30" font-size="10.3" text-anchor="middle" font-weight="bold" fill="#000" >Reo-CM MOI</text>
<line x1="571.20" y1="395.79" x2="571.20" y2="396.67" stroke="#6a6a6a" stroke-width="1.1" />
<path d="M568.30,394.04L571.25,399.24L565.35,399.24Z" fill="#000"/>
<path d="M571.10,392.54L574.05,397.74L568.15,397.74Z" fill="#000"/>
<path d="M574.00,393.54L576.95,398.74L571.05,398.74Z" fill="#000"/>
<line x1="565.90" y1="396.23" x2="576.50" y2="396.23" stroke="#000" stroke-width="1.5" />
<line x1="587.60" y1="398.68" x2="587.60" y2="403.39" stroke="#6a6a6a" stroke-width="1.1" />
<circle cx="587.30" cy="396.40" r="2.8" fill="#a30000"/>
<circle cx="584.40" cy="404.10" r="2.8" fill="#a30000"/>
<circle cx="590.10" cy="402.60" r="2.8" fill="#a30000"/>
<line x1="584.90" y1="398.68" x2="590.30" y2="398.68" stroke="#222" stroke-width="1.0" />
<line x1="584.90" y1="403.39" x2="590.30" y2="403.39" stroke="#222" stroke-width="1.0" />
<line x1="582.30" y1="401.03" x2="592.90" y2="401.03" stroke="#000" stroke-width="1.5" />
<line x1="614.40" y1="378.51" x2="614.40" y2="391.42" stroke="#6a6a6a" stroke-width="1.1" />
<path d="M614.40,372.64L617.35,377.84L611.45,377.84Z" fill="#000"/>
<path d="M614.40,379.24L617.35,384.44L611.45,384.44Z" fill="#000"/>
<path d="M614.40,394.44L617.35,399.64L611.45,399.64Z" fill="#000"/>
<line x1="611.70" y1="378.51" x2="617.10" y2="378.51" stroke="#222" stroke-width="1.0" />
<line x1="611.70" y1="391.42" x2="617.10" y2="391.42" stroke="#222" stroke-width="1.0" />
<line x1="609.10" y1="384.97" x2="619.70" y2="384.97" stroke="#000" stroke-width="1.5" />
<line x1="630.80" y1="385.07" x2="630.80" y2="394.06" stroke="#6a6a6a" stroke-width="1.1" />
<circle cx="630.30" cy="381.20" r="2.8" fill="#a30000"/>
<circle cx="630.30" cy="390.90" r="2.8" fill="#a30000"/>
<circle cx="630.30" cy="396.60" r="2.8" fill="#a30000"/>
<line x1="628.10" y1="385.07" x2="633.50" y2="385.07" stroke="#222" stroke-width="1.0" />
<line x1="628.10" y1="394.06" x2="633.50" y2="394.06" stroke="#222" stroke-width="1.0" />
<line x1="625.50" y1="389.57" x2="636.10" y2="389.57" stroke="#000" stroke-width="1.5" />
<line x1="657.50" y1="369.75" x2="657.50" y2="382.98" stroke="#6a6a6a" stroke-width="1.1" />
<path d="M654.60,364.64L657.55,369.84L651.65,369.84Z" fill="#000"/>
<path d="M660.30,369.44L663.25,374.64L657.35,374.64Z" fill="#000"/>
<path d="M657.50,386.44L660.45,391.64L654.55,391.64Z" fill="#000"/>
<line x1="654.80" y1="369.75" x2="660.20" y2="369.75" stroke="#222" stroke-width="1.0" />
<line x1="654.80" y1="382.98" x2="660.20" y2="382.98" stroke="#222" stroke-width="1.0" />
<line x1="652.20" y1="376.37" x2="662.80" y2="376.37" stroke="#000" stroke-width="1.5" />
<line x1="673.90" y1="375.08" x2="673.90" y2="383.85" stroke="#6a6a6a" stroke-width="1.1" />
<circle cx="673.60" cy="370.70" r="2.8" fill="#a30000"/>
<circle cx="670.80" cy="384.00" r="2.8" fill="#a30000"/>
<circle cx="676.50" cy="383.70" r="2.8" fill="#a30000"/>
<line x1="671.20" y1="375.08" x2="676.60" y2="375.08" stroke="#222" stroke-width="1.0" />
<line x1="671.20" y1="383.85" x2="676.60" y2="383.85" stroke="#222" stroke-width="1.0" />
<line x1="668.60" y1="379.47" x2="679.20" y2="379.47" stroke="#000" stroke-width="1.5" />
<text x="0.00" y="248.20" font-size="14.3" text-anchor="start" font-weight="bold" fill="#000" >b:</text>
<text x="18.70" y="248.20" font-size="11.5" text-anchor="start" font-weight="bold" fill="#000" >HL-60</text>
<line x1="58.70" y1="500.30" x2="58.70" y2="625.00" stroke="#000" stroke-width="1.7" />
<line x1="58.70" y1="624.30" x2="183.70" y2="624.30" stroke="#000" stroke-width="1.7" />
<line x1="53.90" y1="501.00" x2="58.70" y2="501.00" stroke="#000" stroke-width="1.4" />
<text x="51.50" y="504.15" font-size="8.8" text-anchor="end" font-weight="bold" fill="#000" >100</text>
<line x1="53.90" y1="523.42" x2="58.70" y2="523.42" stroke="#000" stroke-width="1.4" />
<text x="51.50" y="526.57" font-size="8.8" text-anchor="end" font-weight="bold" fill="#000" >80</text>
<line x1="53.90" y1="545.84" x2="58.70" y2="545.84" stroke="#000" stroke-width="1.4" />
<text x="51.50" y="548.99" font-size="8.8" text-anchor="end" font-weight="bold" fill="#000" >60</text>
<line x1="53.90" y1="568.26" x2="58.70" y2="568.26" stroke="#000" stroke-width="1.4" />
<text x="51.50" y="571.41" font-size="8.8" text-anchor="end" font-weight="bold" fill="#000" >40</text>
<line x1="53.90" y1="590.68" x2="58.70" y2="590.68" stroke="#000" stroke-width="1.4" />
<text x="51.50" y="593.83" font-size="8.8" text-anchor="end" font-weight="bold" fill="#000" >20</text>
<line x1="53.90" y1="613.10" x2="58.70" y2="613.10" stroke="#000" stroke-width="1.4" />
<text x="51.50" y="616.25" font-size="8.8" text-anchor="end" font-weight="bold" fill="#000" >0</text>
<line x1="77.70" y1="624.30" x2="77.70" y2="629.50" stroke="#000" stroke-width="1.4" />
<text x="77.70" y="639.50" font-size="8.8" text-anchor="middle" font-weight="bold" fill="#000" >0</text>
<line x1="120.90" y1="624.30" x2="120.90" y2="629.50" stroke="#000" stroke-width="1.4" />
<text x="120.90" y="639.50" font-size="8.8" text-anchor="middle" font-weight="bold" fill="#000" >0.1</text>
<line x1="164.00" y1="624.30" x2="164.00" y2="629.50" stroke="#000" stroke-width="1.4" />
<text x="164.00" y="639.50" font-size="8.8" text-anchor="middle" font-weight="bold" fill="#000" >1</text>
<line x1="62.10" y1="613.30" x2="183.70" y2="613.30" stroke="#000" stroke-width="1.6" stroke-dasharray="1.4 2.3"/>
<text x="120.65" y="484.60" font-size="11.6" text-anchor="middle" font-weight="bold" fill="#000" >LCL161</text>
<text x="121.20" y="654.90" font-size="10.3" text-anchor="middle" font-weight="bold" fill="#000" >Reo-CM MOI</text>
<text x="0" y="0" font-size="10.3" text-anchor="middle" font-weight="bold" fill="#000" transform="translate(30.40,562.85) rotate(-90)">% DEAD (minus no-CM)</text>
<line x1="69.50" y1="591.53" x2="69.50" y2="603.03" stroke="#6a6a6a" stroke-width="1.1" />
<path d="M69.80,574.24L72.75,579.44L66.85,579.44Z" fill="#000"/>
<path d="M69.80,588.84L72.75,594.04L66.85,594.04Z" fill="#000"/>
<path d="M66.50,603.44L69.45,608.64L63.55,608.64Z" fill="#000"/>
<path d="M72.80,603.44L75.75,608.64L69.85,608.64Z" fill="#000"/>
<path d="M69.80,602.14L72.75,607.34L66.85,607.34Z" fill="#000"/>
<line x1="66.80" y1="591.53" x2="72.20" y2="591.53" stroke="#222" stroke-width="1.0" />
<line x1="66.80" y1="603.03" x2="72.20" y2="603.03" stroke="#222" stroke-width="1.0" />
<line x1="64.20" y1="597.28" x2="74.80" y2="597.28" stroke="#000" stroke-width="1.5" />
<line x1="85.90" y1="589.66" x2="85.90" y2="604.46" stroke="#6a6a6a" stroke-width="1.1" />
<rect x="83.45" y="572.15" width="4.9" height="4.9" fill="#000"/>
<rect x="83.45" y="583.95" width="4.9" height="4.9" fill="#000"/>
<rect x="83.45" y="597.25" width="4.9" height="4.9" fill="#000"/>
<rect x="80.25" y="611.45" width="4.9" height="4.9" fill="#000"/>
<rect x="86.25" y="608.25" width="4.9" height="4.9" fill="#000"/>
<line x1="83.20" y1="589.66" x2="88.60" y2="589.66" stroke="#222" stroke-width="1.0" />
<line x1="83.20" y1="604.46" x2="88.60" y2="604.46" stroke="#222" stroke-width="1.0" />
<line x1="80.60" y1="597.06" x2="91.20" y2="597.06" stroke="#000" stroke-width="1.5" />
<line x1="112.70" y1="584.08" x2="112.70" y2="595.28" stroke="#6a6a6a" stroke-width="1.1" />
<path d="M112.80,571.34L115.75,576.54L109.85,576.54Z" fill="#000"/>
<path d="M112.80,577.44L115.75,582.64L109.85,582.64Z" fill="#000"/>
<path d="M112.80,587.34L115.75,592.54L109.85,592.54Z" fill="#000"/>
<path d="M109.60,600.24L112.55,605.44L106.65,605.44Z" fill="#000"/>
<path d="M115.90,597.74L118.85,602.94L112.95,602.94Z" fill="#000"/>
<line x1="110.00" y1="584.08" x2="115.40" y2="584.08" stroke="#222" stroke-width="1.0" />
<line x1="110.00" y1="595.28" x2="115.40" y2="595.28" stroke="#222" stroke-width="1.0" />
<line x1="107.40" y1="589.68" x2="118.00" y2="589.68" stroke="#000" stroke-width="1.5" />
<line x1="129.10" y1="567.20" x2="129.10" y2="584.10" stroke="#6a6a6a" stroke-width="1.1" />
<rect x="123.85" y="564.95" width="4.9" height="4.9" fill="#000"/>
<rect x="129.55" y="566.45" width="4.9" height="4.9" fill="#000"/>
<rect x="123.85" y="573.05" width="4.9" height="4.9" fill="#000"/>
<rect x="129.55" y="574.95" width="4.9" height="4.9" fill="#000"/>
<rect x="126.75" y="598.75" width="4.9" height="4.9" fill="#000"/>
<line x1="126.40" y1="567.20" x2="131.80" y2="567.20" stroke="#222" stroke-width="1.0" />
<line x1="126.40" y1="584.10" x2="131.80" y2="584.10" stroke="#222" stroke-width="1.0" />
<line x1="123.80" y1="575.60" x2="134.40" y2="575.60" stroke="#000" stroke-width="1.5" />
<line x1="155.80" y1="571.89" x2="155.80" y2="585.27" stroke="#6a6a6a" stroke-width="1.1" />
<path d="M152.90,559.74L155.85,564.94L149.95,564.94Z" fill="#000"/>
<path d="M159.00,562.24L161.95,567.44L156.05,567.44Z" fill="#000"/>
<path d="M156.10,575.54L159.05,580.74L153.15,580.74Z" fill="#000"/>
<path d="M156.10,587.54L159.05,592.74L153.15,592.74Z" fill="#000"/>
<path d="M156.10,593.54L159.05,598.74L153.15,598.74Z" fill="#000"/>
<line x1="153.10" y1="571.89" x2="158.50" y2="571.89" stroke="#222" stroke-width="1.0" />
<line x1="153.10" y1="585.27" x2="158.50" y2="585.27" stroke="#222" stroke-width="1.0" />
<line x1="150.50" y1="578.58" x2="161.10" y2="578.58" stroke="#000" stroke-width="1.5" />
<line x1="172.20" y1="562.65" x2="172.20" y2="572.19" stroke="#6a6a6a" stroke-width="1.1" />
<rect x="169.85" y="551.25" width="4.9" height="4.9" fill="#000"/>
<rect x="169.85" y="558.45" width="4.9" height="4.9" fill="#000"/>
<rect x="169.85" y="565.15" width="4.9" height="4.9" fill="#000"/>
<rect x="169.85" y="571.55" width="4.9" height="4.9" fill="#000"/>
<rect x="169.85" y="578.45" width="4.9" height="4.9" fill="#000"/>
<line x1="169.50" y1="562.65" x2="174.90" y2="562.65" stroke="#222" stroke-width="1.0" />
<line x1="169.50" y1="572.19" x2="174.90" y2="572.19" stroke="#222" stroke-width="1.0" />
<line x1="166.90" y1="567.42" x2="177.50" y2="567.42" stroke="#000" stroke-width="1.5" />
<path d="M112.80,566.10V539.10H129.20V560.40" fill="none" stroke="#000" stroke-width="1.25"/>
<circle cx="121.00" cy="535.30" r="1.2" fill="#000"/>
<path d="M121.00,533.60L121.00,537.00M122.47,534.45L119.53,536.15M122.47,536.15L119.53,534.45" stroke="#000" stroke-width="0.7" fill="none"/>
<path d="M156.10,554.70V539.10H172.30V546.10" fill="none" stroke="#000" stroke-width="1.25"/>
<circle cx="164.20" cy="535.30" r="1.2" fill="#000"/>
<path d="M164.20,533.60L164.20,537.00M165.67,534.45L162.73,536.15M165.67,536.15L162.73,534.45" stroke="#000" stroke-width="0.7" fill="none"/>
<line x1="227.40" y1="500.30" x2="227.40" y2="625.00" stroke="#000" stroke-width="1.7" />
<line x1="227.40" y1="624.30" x2="352.40" y2="624.30" stroke="#000" stroke-width="1.7" />
<line x1="222.60" y1="501.00" x2="227.40" y2="501.00" stroke="#000" stroke-width="1.4" />
<text x="220.20" y="504.15" font-size="8.8" text-anchor="end" font-weight="bold" fill="#000" >100</text>
<line x1="222.60" y1="523.42" x2="227.40" y2="523.42" stroke="#000" stroke-width="1.4" />
<text x="220.20" y="526.57" font-size="8.8" text-anchor="end" font-weight="bold" fill="#000" >80</text>
<line x1="222.60" y1="545.84" x2="227.40" y2="545.84" stroke="#000" stroke-width="1.4" />
<text x="220.20" y="548.99" font-size="8.8" text-anchor="end" font-weight="bold" fill="#000" >60</text>
<line x1="222.60" y1="568.26" x2="227.40" y2="568.26" stroke="#000" stroke-width="1.4" />
<text x="220.20" y="571.41" font-size="8.8" text-anchor="end" font-weight="bold" fill="#000" >40</text>
<line x1="222.60" y1="590.68" x2="227.40" y2="590.68" stroke="#000" stroke-width="1.4" />
<text x="220.20" y="593.83" font-size="8.8" text-anchor="end" font-weight="bold" fill="#000" >20</text>
<line x1="222.60" y1="613.10" x2="227.40" y2="613.10" stroke="#000" stroke-width="1.4" />
<text x="220.20" y="616.25" font-size="8.8" text-anchor="end" font-weight="bold" fill="#000" >0</text>
<line x1="246.40" y1="624.30" x2="246.40" y2="629.50" stroke="#000" stroke-width="1.4" />
<text x="246.40" y="639.50" font-size="8.8" text-anchor="middle" font-weight="bold" fill="#000" >0</text>
<line x1="289.60" y1="624.30" x2="289.60" y2="629.50" stroke="#000" stroke-width="1.4" />
<text x="289.60" y="639.50" font-size="8.8" text-anchor="middle" font-weight="bold" fill="#000" >0.1</text>
<line x1="332.70" y1="624.30" x2="332.70" y2="629.50" stroke="#000" stroke-width="1.4" />
<text x="332.70" y="639.50" font-size="8.8" text-anchor="middle" font-weight="bold" fill="#000" >1</text>
<line x1="230.80" y1="613.30" x2="352.40" y2="613.30" stroke="#000" stroke-width="1.6" stroke-dasharray="1.4 2.3"/>
<text x="291.20" y="484.60" font-size="11.6" text-anchor="middle" font-weight="bold" fill="#000" >BV-6</text>
<text x="289.90" y="654.90" font-size="10.3" text-anchor="middle" font-weight="bold" fill="#000" >Reo-CM MOI</text>
<line x1="238.20" y1="613.74" x2="238.20" y2="614.32" stroke="#6a6a6a" stroke-width="1.1" />
<path d="M235.50,611.64L238.45,616.84L232.55,616.84Z" fill="#000"/>
<path d="M238.30,610.64L241.25,615.84L235.35,615.84Z" fill="#000"/>
<path d="M241.20,611.24L244.15,616.44L238.25,616.44Z" fill="#000"/>
<line x1="232.90" y1="614.03" x2="243.50" y2="614.03" stroke="#000" stroke-width="1.5" />
<line x1="254.60" y1="612.33" x2="254.60" y2="613.20" stroke="#6a6a6a" stroke-width="1.1" />
<rect x="249.85" y="611.35" width="4.3" height="4.3" fill="none" stroke="#000" stroke-width="1.3"/>
<rect x="252.35" y="609.85" width="4.3" height="4.3" fill="none" stroke="#000" stroke-width="1.3"/>
<rect x="255.15" y="610.65" width="4.3" height="4.3" fill="none" stroke="#000" stroke-width="1.3"/>
<line x1="249.30" y1="612.77" x2="259.90" y2="612.77" stroke="#000" stroke-width="1.5" />
<line x1="281.40" y1="603.10" x2="281.40" y2="605.43" stroke="#6a6a6a" stroke-width="1.1" />
<path d="M281.40,599.24L284.35,604.44L278.45,604.44Z" fill="#000"/>
<path d="M278.60,603.24L281.55,608.44L275.65,608.44Z" fill="#000"/>
<path d="M284.30,601.74L287.25,606.94L281.35,606.94Z" fill="#000"/>
<line x1="276.10" y1="604.27" x2="286.70" y2="604.27" stroke="#000" stroke-width="1.5" />
<line x1="297.80" y1="602.43" x2="297.80" y2="606.30" stroke="#6a6a6a" stroke-width="1.1" />
<rect x="292.75" y="599.25" width="4.3" height="4.3" fill="none" stroke="#000" stroke-width="1.3"/>
<rect x="292.75" y="605.85" width="4.3" height="4.3" fill="none" stroke="#000" stroke-width="1.3"/>
<rect x="298.45" y="601.55" width="4.3" height="4.3" fill="none" stroke="#000" stroke-width="1.3"/>
<line x1="295.10" y1="602.43" x2="300.50" y2="602.43" stroke="#222" stroke-width="1.0" />
<line x1="295.10" y1="606.30" x2="300.50" y2="606.30" stroke="#222" stroke-width="1.0" />
<line x1="292.50" y1="604.37" x2="303.10" y2="604.37" stroke="#000" stroke-width="1.5" />
<line x1="324.50" y1="583.56" x2="324.50" y2="586.58" stroke="#6a6a6a" stroke-width="1.1" />
<path d="M324.30,579.44L327.25,584.64L321.35,584.64Z" fill="#000"/>
<path d="M321.60,584.64L324.55,589.84L318.65,589.84Z" fill="#000"/>
<path d="M327.40,582.54L330.35,587.74L324.45,587.74Z" fill="#000"/>
<line x1="321.80" y1="583.56" x2="327.20" y2="583.56" stroke="#222" stroke-width="1.0" />
<line x1="321.80" y1="586.58" x2="327.20" y2="586.58" stroke="#222" stroke-width="1.0" />
<line x1="319.20" y1="585.07" x2="329.80" y2="585.07" stroke="#000" stroke-width="1.5" />
<line x1="340.90" y1="576.50" x2="340.90" y2="578.77" stroke="#6a6a6a" stroke-width="1.1" />
<rect x="335.45" y="577.75" width="4.3" height="4.3" fill="none" stroke="#000" stroke-width="1.3"/>
<rect x="338.55" y="574.35" width="4.3" height="4.3" fill="none" stroke="#000" stroke-width="1.3"/>
<rect x="341.95" y="574.35" width="4.3" height="4.3" fill="none" stroke="#000" stroke-width="1.3"/>
<line x1="335.60" y1="577.63" x2="346.20" y2="577.63" stroke="#000" stroke-width="1.5" />
<path d="M324.50,575.20V562.20H340.70V569.50" fill="none" stroke="#000" stroke-width="1.25"/>
<circle cx="332.60" cy="558.80" r="1.2" fill="#000"/>
<path d="M332.60,557.10L332.60,560.50M334.07,557.95L331.13,559.65M334.07,559.65L331.13,557.95" stroke="#000" stroke-width="0.7" fill="none"/>
<line x1="394.00" y1="500.40" x2="394.00" y2="625.00" stroke="#000" stroke-width="1.7" />
<line x1="394.00" y1="624.30" x2="519.00" y2="624.30" stroke="#000" stroke-width="1.7" />
<line x1="389.20" y1="501.10" x2="394.00" y2="501.10" stroke="#000" stroke-width="1.4" />
<text x="386.80" y="504.25" font-size="8.8" text-anchor="end" font-weight="bold" fill="#000" >100</text>
<line x1="389.20" y1="522.22" x2="394.00" y2="522.22" stroke="#000" stroke-width="1.4" />
<text x="386.80" y="525.37" font-size="8.8" text-anchor="end" font-weight="bold" fill="#000" >80</text>
<line x1="389.20" y1="543.34" x2="394.00" y2="543.34" stroke="#000" stroke-width="1.4" />
<text x="386.80" y="546.49" font-size="8.8" text-anchor="end" font-weight="bold" fill="#000" >60</text>
<line x1="389.20" y1="564.46" x2="394.00" y2="564.46" stroke="#000" stroke-width="1.4" />
<text x="386.80" y="567.61" font-size="8.8" text-anchor="end" font-weight="bold" fill="#000" >40</text>
<line x1="389.20" y1="585.58" x2="394.00" y2="585.58" stroke="#000" stroke-width="1.4" />
<text x="386.80" y="588.73" font-size="8.8" text-anchor="end" font-weight="bold" fill="#000" >20</text>
<line x1="389.20" y1="606.70" x2="394.00" y2="606.70" stroke="#000" stroke-width="1.4" />
<text x="386.80" y="609.85" font-size="8.8" text-anchor="end" font-weight="bold" fill="#000" >0</text>
<line x1="413.00" y1="624.30" x2="413.00" y2="629.50" stroke="#000" stroke-width="1.4" />
<text x="413.00" y="639.50" font-size="8.8" text-anchor="middle" font-weight="bold" fill="#000" >0</text>
<line x1="456.20" y1="624.30" x2="456.20" y2="629.50" stroke="#000" stroke-width="1.4" />
<text x="456.20" y="639.50" font-size="8.8" text-anchor="middle" font-weight="bold" fill="#000" >0.1</text>
<line x1="499.30" y1="624.30" x2="499.30" y2="629.50" stroke="#000" stroke-width="1.4" />
<text x="499.30" y="639.50" font-size="8.8" text-anchor="middle" font-weight="bold" fill="#000" >1</text>
<line x1="397.40" y1="606.90" x2="519.00" y2="606.90" stroke="#000" stroke-width="1.6" stroke-dasharray="1.4 2.3"/>
<text x="457.60" y="484.60" font-size="11.6" text-anchor="middle" font-weight="bold" fill="#000" >ABT263</text>
<text x="456.50" y="654.90" font-size="10.3" text-anchor="middle" font-weight="bold" fill="#000" >Reo-CM MOI</text>
<line x1="404.80" y1="607.30" x2="404.80" y2="618.44" stroke="#6a6a6a" stroke-width="1.1" />
<path d="M401.90,604.04L404.85,609.24L398.95,609.24Z" fill="#000"/>
<path d="M407.60,604.84L410.55,610.04L404.65,610.04Z" fill="#000"/>
<path d="M404.80,621.14L407.75,626.34L401.85,626.34Z" fill="#000"/>
<line x1="402.10" y1="607.30" x2="407.50" y2="607.30" stroke="#222" stroke-width="1.0" />
<line x1="402.10" y1="618.44" x2="407.50" y2="618.44" stroke="#222" stroke-width="1.0" />
<line x1="399.50" y1="612.87" x2="410.10" y2="612.87" stroke="#000" stroke-width="1.5" />
<line x1="421.20" y1="609.20" x2="421.20" y2="609.20" stroke="#6a6a6a" stroke-width="1.1" />
<circle cx="418.10" cy="609.20" r="2.1" fill="none" stroke="#a30000" stroke-width="1.3"/>
<circle cx="420.90" cy="609.20" r="2.1" fill="none" stroke="#a30000" stroke-width="1.3"/>
<circle cx="423.70" cy="609.20" r="2.1" fill="none" stroke="#a30000" stroke-width="1.3"/>
<line x1="415.90" y1="609.20" x2="426.50" y2="609.20" stroke="#000" stroke-width="1.5" />
<line x1="448.00" y1="590.50" x2="448.00" y2="605.03" stroke="#6a6a6a" stroke-width="1.1" />
<path d="M448.00,583.94L450.95,589.14L445.05,589.14Z" fill="#000"/>
<path d="M448.00,592.14L450.95,597.34L445.05,597.34Z" fill="#000"/>
<path d="M448.00,608.64L450.95,613.84L445.05,613.84Z" fill="#000"/>
<line x1="445.30" y1="590.50" x2="450.70" y2="590.50" stroke="#222" stroke-width="1.0" />
<line x1="445.30" y1="605.03" x2="450.70" y2="605.03" stroke="#222" stroke-width="1.0" />
<line x1="442.70" y1="597.77" x2="453.30" y2="597.77" stroke="#000" stroke-width="1.5" />
<line x1="464.40" y1="576.94" x2="464.40" y2="585.92" stroke="#6a6a6a" stroke-width="1.1" />
<circle cx="464.20" cy="572.80" r="2.1" fill="none" stroke="#a30000" stroke-width="1.3"/>
<circle cx="461.30" cy="587.90" r="2.1" fill="none" stroke="#a30000" stroke-width="1.3"/>
<circle cx="467.00" cy="583.60" r="2.1" fill="none" stroke="#a30000" stroke-width="1.3"/>
<line x1="461.70" y1="576.94" x2="467.10" y2="576.94" stroke="#222" stroke-width="1.0" />
<line x1="461.70" y1="585.92" x2="467.10" y2="585.92" stroke="#222" stroke-width="1.0" />
<line x1="459.10" y1="581.43" x2="469.70" y2="581.43" stroke="#000" stroke-width="1.5" />
<line x1="491.10" y1="570.47" x2="491.10" y2="590.47" stroke="#6a6a6a" stroke-width="1.1" />
<path d="M491.10,563.24L494.05,568.44L488.15,568.44Z" fill="#000"/>
<path d="M491.10,572.74L494.05,577.94L488.15,577.94Z" fill="#000"/>
<path d="M491.10,596.84L494.05,602.04L488.15,602.04Z" fill="#000"/>
<line x1="488.40" y1="570.47" x2="493.80" y2="570.47" stroke="#222" stroke-width="1.0" />
<line x1="488.40" y1="590.47" x2="493.80" y2="590.47" stroke="#222" stroke-width="1.0" />
<line x1="485.80" y1="580.47" x2="496.40" y2="580.47" stroke="#000" stroke-width="1.5" />
<line x1="507.50" y1="549.27" x2="507.50" y2="562.86" stroke="#6a6a6a" stroke-width="1.1" />
<circle cx="507.30" cy="546.00" r="2.1" fill="none" stroke="#a30000" stroke-width="1.3"/>
<circle cx="507.30" cy="553.20" r="2.1" fill="none" stroke="#a30000" stroke-width="1.3"/>
<circle cx="507.30" cy="569.00" r="2.1" fill="none" stroke="#a30000" stroke-width="1.3"/>
<line x1="504.80" y1="549.27" x2="510.20" y2="549.27" stroke="#222" stroke-width="1.0" />
<line x1="504.80" y1="562.86" x2="510.20" y2="562.86" stroke="#222" stroke-width="1.0" />
<line x1="502.20" y1="556.07" x2="512.80" y2="556.07" stroke="#000" stroke-width="1.5" />
<path d="M448.00,578.80V531.50H464.20V565.50" fill="none" stroke="#000" stroke-width="1.25"/>
<circle cx="453.70" cy="525.10" r="1.2" fill="#000"/>
<path d="M453.70,523.40L453.70,526.80M455.17,524.25L452.23,525.95M455.17,525.95L452.23,524.25" stroke="#000" stroke-width="0.7" fill="none"/>
<circle cx="458.50" cy="525.10" r="1.2" fill="#000"/>
<path d="M458.50,523.40L458.50,526.80M459.97,524.25L457.03,525.95M459.97,525.95L457.03,524.25" stroke="#000" stroke-width="0.7" fill="none"/>
<path d="M491.10,558.90V531.50H507.30V539.00" fill="none" stroke="#000" stroke-width="1.25"/>
<circle cx="494.40" cy="525.10" r="1.2" fill="#000"/>
<path d="M494.40,523.40L494.40,526.80M495.87,524.25L492.93,525.95M495.87,525.95L492.93,524.25" stroke="#000" stroke-width="0.7" fill="none"/>
<circle cx="499.20" cy="525.10" r="1.2" fill="#000"/>
<path d="M499.20,523.40L499.20,526.80M500.67,524.25L497.73,525.95M500.67,525.95L497.73,524.25" stroke="#000" stroke-width="0.7" fill="none"/>
<circle cx="504.00" cy="525.10" r="1.2" fill="#000"/>
<path d="M504.00,523.40L504.00,526.80M505.47,524.25L502.53,525.95M505.47,525.95L502.53,524.25" stroke="#000" stroke-width="0.7" fill="none"/>
<line x1="560.20" y1="500.40" x2="560.20" y2="625.00" stroke="#000" stroke-width="1.7" />
<line x1="560.20" y1="624.30" x2="685.20" y2="624.30" stroke="#000" stroke-width="1.7" />
<line x1="555.40" y1="501.10" x2="560.20" y2="501.10" stroke="#000" stroke-width="1.4" />
<text x="553.00" y="504.25" font-size="8.8" text-anchor="end" font-weight="bold" fill="#000" >100</text>
<line x1="555.40" y1="522.22" x2="560.20" y2="522.22" stroke="#000" stroke-width="1.4" />
<text x="553.00" y="525.37" font-size="8.8" text-anchor="end" font-weight="bold" fill="#000" >80</text>
<line x1="555.40" y1="543.34" x2="560.20" y2="543.34" stroke="#000" stroke-width="1.4" />
<text x="553.00" y="546.49" font-size="8.8" text-anchor="end" font-weight="bold" fill="#000" >60</text>
<line x1="555.40" y1="564.46" x2="560.20" y2="564.46" stroke="#000" stroke-width="1.4" />
<text x="553.00" y="567.61" font-size="8.8" text-anchor="end" font-weight="bold" fill="#000" >40</text>
<line x1="555.40" y1="585.58" x2="560.20" y2="585.58" stroke="#000" stroke-width="1.4" />
<text x="553.00" y="588.73" font-size="8.8" text-anchor="end" font-weight="bold" fill="#000" >20</text>
<line x1="555.40" y1="606.70" x2="560.20" y2="606.70" stroke="#000" stroke-width="1.4" />
<text x="553.00" y="609.85" font-size="8.8" text-anchor="end" font-weight="bold" fill="#000" >0</text>
<line x1="579.20" y1="624.30" x2="579.20" y2="629.50" stroke="#000" stroke-width="1.4" />
<text x="579.20" y="639.50" font-size="8.8" text-anchor="middle" font-weight="bold" fill="#000" >0</text>
<line x1="622.40" y1="624.30" x2="622.40" y2="629.50" stroke="#000" stroke-width="1.4" />
<text x="622.40" y="639.50" font-size="8.8" text-anchor="middle" font-weight="bold" fill="#000" >0.1</text>
<line x1="665.50" y1="624.30" x2="665.50" y2="629.50" stroke="#000" stroke-width="1.4" />
<text x="665.50" y="639.50" font-size="8.8" text-anchor="middle" font-weight="bold" fill="#000" >1</text>
<line x1="563.60" y1="606.90" x2="685.20" y2="606.90" stroke="#000" stroke-width="1.6" stroke-dasharray="1.4 2.3"/>
<text x="624.20" y="484.60" font-size="11.6" text-anchor="middle" font-weight="bold" fill="#000" >ABT-199</text>
<text x="622.70" y="654.90" font-size="10.3" text-anchor="middle" font-weight="bold" fill="#000" >Reo-CM MOI</text>
<line x1="571.00" y1="607.30" x2="571.00" y2="618.44" stroke="#6a6a6a" stroke-width="1.1" />
<path d="M568.30,604.04L571.25,609.24L565.35,609.24Z" fill="#000"/>
<path d="M574.00,604.84L576.95,610.04L571.05,610.04Z" fill="#000"/>
<path d="M571.10,621.14L574.05,626.34L568.15,626.34Z" fill="#000"/>
<line x1="568.30" y1="607.30" x2="573.70" y2="607.30" stroke="#222" stroke-width="1.0" />
<line x1="568.30" y1="618.44" x2="573.70" y2="618.44" stroke="#222" stroke-width="1.0" />
<line x1="565.70" y1="612.87" x2="576.30" y2="612.87" stroke="#000" stroke-width="1.5" />
<line x1="587.40" y1="599.95" x2="587.40" y2="613.65" stroke="#6a6a6a" stroke-width="1.1" />
<circle cx="587.30" cy="593.10" r="2.8" fill="#a30000"/>
<circle cx="584.40" cy="613.90" r="2.8" fill="#a30000"/>
<circle cx="590.10" cy="613.40" r="2.8" fill="#a30000"/>
<line x1="584.70" y1="599.95" x2="590.10" y2="599.95" stroke="#222" stroke-width="1.0" />
<line x1="584.70" y1="613.65" x2="590.10" y2="613.65" stroke="#222" stroke-width="1.0" />
<line x1="582.10" y1="606.80" x2="592.70" y2="606.80" stroke="#000" stroke-width="1.5" />
<line x1="614.20" y1="590.50" x2="614.20" y2="605.03" stroke="#6a6a6a" stroke-width="1.1" />
<path d="M614.40,583.94L617.35,589.14L611.45,589.14Z" fill="#000"/>
<path d="M614.40,592.14L617.35,597.34L611.45,597.34Z" fill="#000"/>
<path d="M614.40,608.64L617.35,613.84L611.45,613.84Z" fill="#000"/>
<line x1="611.50" y1="590.50" x2="616.90" y2="590.50" stroke="#222" stroke-width="1.0" />
<line x1="611.50" y1="605.03" x2="616.90" y2="605.03" stroke="#222" stroke-width="1.0" />
<line x1="608.90" y1="597.77" x2="619.50" y2="597.77" stroke="#000" stroke-width="1.5" />
<line x1="630.60" y1="552.31" x2="630.60" y2="559.82" stroke="#6a6a6a" stroke-width="1.1" />
<circle cx="627.50" cy="550.70" r="2.8" fill="#a30000"/>
<circle cx="633.20" cy="554.20" r="2.8" fill="#a30000"/>
<circle cx="630.30" cy="563.30" r="2.8" fill="#a30000"/>
<line x1="627.90" y1="552.31" x2="633.30" y2="552.31" stroke="#222" stroke-width="1.0" />
<line x1="627.90" y1="559.82" x2="633.30" y2="559.82" stroke="#222" stroke-width="1.0" />
<line x1="625.30" y1="556.07" x2="635.90" y2="556.07" stroke="#000" stroke-width="1.5" />
<line x1="657.30" y1="570.47" x2="657.30" y2="590.47" stroke="#6a6a6a" stroke-width="1.1" />
<path d="M657.50,563.24L660.45,568.44L654.55,568.44Z" fill="#000"/>
<path d="M657.50,572.74L660.45,577.94L654.55,577.94Z" fill="#000"/>
<path d="M657.50,596.84L660.45,602.04L654.55,602.04Z" fill="#000"/>
<line x1="654.60" y1="570.47" x2="660.00" y2="570.47" stroke="#222" stroke-width="1.0" />
<line x1="654.60" y1="590.47" x2="660.00" y2="590.47" stroke="#222" stroke-width="1.0" />
<line x1="652.00" y1="580.47" x2="662.60" y2="580.47" stroke="#000" stroke-width="1.5" />
<line x1="673.70" y1="537.04" x2="673.70" y2="541.63" stroke="#6a6a6a" stroke-width="1.1" />
<circle cx="673.50" cy="534.80" r="2.8" fill="#a30000"/>
<circle cx="670.50" cy="542.20" r="2.8" fill="#a30000"/>
<circle cx="676.30" cy="541.00" r="2.8" fill="#a30000"/>
<line x1="671.00" y1="537.04" x2="676.40" y2="537.04" stroke="#222" stroke-width="1.0" />
<line x1="671.00" y1="541.63" x2="676.40" y2="541.63" stroke="#222" stroke-width="1.0" />
<line x1="668.40" y1="539.33" x2="679.00" y2="539.33" stroke="#000" stroke-width="1.5" />
<path d="M614.00,578.80V520.10H630.20V543.50" fill="none" stroke="#000" stroke-width="1.25"/>
<circle cx="617.30" cy="516.40" r="1.2" fill="#000"/>
<path d="M617.30,514.70L617.30,518.10M618.77,515.55L615.83,517.25M618.77,517.25L615.83,515.55" stroke="#000" stroke-width="0.7" fill="none"/>
<circle cx="622.10" cy="516.40" r="1.2" fill="#000"/>
<path d="M622.10,514.70L622.10,518.10M623.57,515.55L620.63,517.25M623.57,517.25L620.63,515.55" stroke="#000" stroke-width="0.7" fill="none"/>
<circle cx="626.90" cy="516.40" r="1.2" fill="#000"/>
<path d="M626.90,514.70L626.90,518.10M628.37,515.55L625.43,517.25M628.37,517.25L625.43,515.55" stroke="#000" stroke-width="0.7" fill="none"/>
<path d="M657.50,558.90V520.10H673.50V527.30" fill="none" stroke="#000" stroke-width="1.25"/>
<circle cx="660.70" cy="516.40" r="1.2" fill="#000"/>
<path d="M660.70,514.70L660.70,518.10M662.17,515.55L659.23,517.25M662.17,517.25L659.23,515.55" stroke="#000" stroke-width="0.7" fill="none"/>
<circle cx="665.50" cy="516.40" r="1.2" fill="#000"/>
<path d="M665.50,514.70L665.50,518.10M666.97,515.55L664.03,517.25M666.97,517.25L664.03,515.55" stroke="#000" stroke-width="0.7" fill="none"/>
<circle cx="670.30" cy="516.40" r="1.2" fill="#000"/>
<path d="M670.30,514.70L670.30,518.10M671.77,515.55L668.83,517.25M671.77,517.25L668.83,515.55" stroke="#000" stroke-width="0.7" fill="none"/>
<text x="-0.40" y="468.70" font-size="14.3" text-anchor="start" font-weight="bold" fill="#000" >c:</text>
<text x="17.50" y="468.70" font-size="11.5" text-anchor="start" font-weight="bold" fill="#000" >KG-1</text>
<line x1="59.00" y1="723.40" x2="59.00" y2="848.30" stroke="#000" stroke-width="1.7" />
<line x1="59.00" y1="847.60" x2="184.00" y2="847.60" stroke="#000" stroke-width="1.7" />
<line x1="54.20" y1="724.10" x2="59.00" y2="724.10" stroke="#000" stroke-width="1.4" />
<text x="51.80" y="727.25" font-size="8.8" text-anchor="end" font-weight="bold" fill="#000" >100</text>
<line x1="54.20" y1="746.58" x2="59.00" y2="746.58" stroke="#000" stroke-width="1.4" />
<text x="51.80" y="749.73" font-size="8.8" text-anchor="end" font-weight="bold" fill="#000" >80</text>
<line x1="54.20" y1="769.06" x2="59.00" y2="769.06" stroke="#000" stroke-width="1.4" />
<text x="51.80" y="772.21" font-size="8.8" text-anchor="end" font-weight="bold" fill="#000" >60</text>
<line x1="54.20" y1="791.54" x2="59.00" y2="791.54" stroke="#000" stroke-width="1.4" />
<text x="51.80" y="794.69" font-size="8.8" text-anchor="end" font-weight="bold" fill="#000" >40</text>
<line x1="54.20" y1="814.02" x2="59.00" y2="814.02" stroke="#000" stroke-width="1.4" />
<text x="51.80" y="817.17" font-size="8.8" text-anchor="end" font-weight="bold" fill="#000" >20</text>
<line x1="54.20" y1="836.50" x2="59.00" y2="836.50" stroke="#000" stroke-width="1.4" />
<text x="51.80" y="839.65" font-size="8.8" text-anchor="end" font-weight="bold" fill="#000" >0</text>
<line x1="78.00" y1="847.60" x2="78.00" y2="852.80" stroke="#000" stroke-width="1.4" />
<text x="78.00" y="862.90" font-size="8.8" text-anchor="middle" font-weight="bold" fill="#000" >0</text>
<line x1="121.20" y1="847.60" x2="121.20" y2="852.80" stroke="#000" stroke-width="1.4" />
<text x="121.20" y="862.90" font-size="8.8" text-anchor="middle" font-weight="bold" fill="#000" >0.1</text>
<line x1="164.30" y1="847.60" x2="164.30" y2="852.80" stroke="#000" stroke-width="1.4" />
<text x="164.30" y="862.90" font-size="8.8" text-anchor="middle" font-weight="bold" fill="#000" >1</text>
<line x1="62.40" y1="836.70" x2="184.00" y2="836.70" stroke="#000" stroke-width="1.6" stroke-dasharray="1.4 2.3"/>
<text x="121.80" y="708.10" font-size="11.6" text-anchor="middle" font-weight="bold" fill="#000" >LCL161</text>
<text x="121.50" y="878.40" font-size="10.3" text-anchor="middle" font-weight="bold" fill="#000" >Reo-CM MOI</text>
<text x="0" y="0" font-size="10.3" text-anchor="middle" font-weight="bold" fill="#000" transform="translate(30.70,786.05) rotate(-90)">% DEAD (minus no-CM)</text>
<line x1="69.80" y1="817.73" x2="69.80" y2="821.00" stroke="#6a6a6a" stroke-width="1.1" />
<path d="M66.50,814.44L69.45,819.64L63.55,819.64Z" fill="#000"/>
<path d="M66.50,819.74L69.45,824.94L63.55,824.94Z" fill="#000"/>
<path d="M72.80,815.34L75.75,820.54L69.85,820.54Z" fill="#000"/>
<line x1="67.10" y1="817.73" x2="72.50" y2="817.73" stroke="#222" stroke-width="1.0" />
<line x1="67.10" y1="821.00" x2="72.50" y2="821.00" stroke="#222" stroke-width="1.0" />
<line x1="64.50" y1="819.37" x2="75.10" y2="819.37" stroke="#000" stroke-width="1.5" />
<line x1="86.20" y1="815.77" x2="86.20" y2="821.10" stroke="#6a6a6a" stroke-width="1.1" />
<rect x="83.45" y="810.65" width="4.9" height="4.9" fill="#000"/>
<rect x="80.25" y="818.65" width="4.9" height="4.9" fill="#000"/>
<rect x="86.25" y="818.65" width="4.9" height="4.9" fill="#000"/>
<line x1="83.50" y1="815.77" x2="88.90" y2="815.77" stroke="#222" stroke-width="1.0" />
<line x1="83.50" y1="821.10" x2="88.90" y2="821.10" stroke="#222" stroke-width="1.0" />
<line x1="80.90" y1="818.43" x2="91.50" y2="818.43" stroke="#000" stroke-width="1.5" />
<line x1="113.00" y1="812.94" x2="113.00" y2="817.33" stroke="#6a6a6a" stroke-width="1.1" />
<path d="M109.60,808.34L112.55,813.54L106.65,813.54Z" fill="#000"/>
<path d="M109.60,815.94L112.55,821.14L106.65,821.14Z" fill="#000"/>
<path d="M115.90,812.54L118.85,817.74L112.95,817.74Z" fill="#000"/>
<line x1="110.30" y1="812.94" x2="115.70" y2="812.94" stroke="#222" stroke-width="1.0" />
<line x1="110.30" y1="817.33" x2="115.70" y2="817.33" stroke="#222" stroke-width="1.0" />
<line x1="107.70" y1="815.13" x2="118.30" y2="815.13" stroke="#000" stroke-width="1.5" />
<line x1="129.40" y1="803.53" x2="129.40" y2="812.27" stroke="#6a6a6a" stroke-width="1.1" />
<rect x="126.75" y="798.15" width="4.9" height="4.9" fill="#000"/>
<rect x="126.75" y="804.95" width="4.9" height="4.9" fill="#000"/>
<rect x="126.75" y="813.25" width="4.9" height="4.9" fill="#000"/>
<line x1="126.70" y1="803.53" x2="132.10" y2="803.53" stroke="#222" stroke-width="1.0" />
<line x1="126.70" y1="812.27" x2="132.10" y2="812.27" stroke="#222" stroke-width="1.0" />
<line x1="124.10" y1="807.90" x2="134.70" y2="807.90" stroke="#000" stroke-width="1.5" />
<line x1="156.10" y1="798.96" x2="156.10" y2="806.17" stroke="#6a6a6a" stroke-width="1.1" />
<path d="M156.10,792.54L159.05,797.74L153.15,797.74Z" fill="#000"/>
<path d="M152.90,803.94L155.85,809.14L149.95,809.14Z" fill="#000"/>
<path d="M159.00,802.64L161.95,807.84L156.05,807.84Z" fill="#000"/>
<line x1="153.40" y1="798.96" x2="158.80" y2="798.96" stroke="#222" stroke-width="1.0" />
<line x1="153.40" y1="806.17" x2="158.80" y2="806.17" stroke="#222" stroke-width="1.0" />
<line x1="150.80" y1="802.57" x2="161.40" y2="802.57" stroke="#000" stroke-width="1.5" />
<line x1="172.50" y1="802.28" x2="172.50" y2="803.05" stroke="#6a6a6a" stroke-width="1.1" />
<rect x="166.55" y="800.95" width="4.9" height="4.9" fill="#000"/>
<rect x="169.45" y="799.65" width="4.9" height="4.9" fill="#000"/>
<rect x="172.65" y="800.05" width="4.9" height="4.9" fill="#000"/>
<line x1="167.20" y1="802.67" x2="177.80" y2="802.67" stroke="#000" stroke-width="1.5" />
<line x1="227.50" y1="723.40" x2="227.50" y2="848.30" stroke="#000" stroke-width="1.7" />
<line x1="227.50" y1="847.60" x2="352.50" y2="847.60" stroke="#000" stroke-width="1.7" />
<line x1="222.70" y1="724.10" x2="227.50" y2="724.10" stroke="#000" stroke-width="1.4" />
<text x="220.30" y="727.25" font-size="8.8" text-anchor="end" font-weight="bold" fill="#000" >100</text>
<line x1="222.70" y1="746.58" x2="227.50" y2="746.58" stroke="#000" stroke-width="1.4" />
<text x="220.30" y="749.73" font-size="8.8" text-anchor="end" font-weight="bold" fill="#000" >80</text>
<line x1="222.70" y1="769.06" x2="227.50" y2="769.06" stroke="#000" stroke-width="1.4" />
<text x="220.30" y="772.21" font-size="8.8" text-anchor="end" font-weight="bold" fill="#000" >60</text>
<line x1="222.70" y1="791.54" x2="227.50" y2="791.54" stroke="#000" stroke-width="1.4" />
<text x="220.30" y="794.69" font-size="8.8" text-anchor="end" font-weight="bold" fill="#000" >40</text>
<line x1="222.70" y1="814.02" x2="227.50" y2="814.02" stroke="#000" stroke-width="1.4" />
<text x="220.30" y="817.17" font-size="8.8" text-anchor="end" font-weight="bold" fill="#000" >20</text>
<line x1="222.70" y1="836.50" x2="227.50" y2="836.50" stroke="#000" stroke-width="1.4" />
<text x="220.30" y="839.65" font-size="8.8" text-anchor="end" font-weight="bold" fill="#000" >0</text>
<line x1="246.50" y1="847.60" x2="246.50" y2="852.80" stroke="#000" stroke-width="1.4" />
<text x="246.50" y="862.90" font-size="8.8" text-anchor="middle" font-weight="bold" fill="#000" >0</text>
<line x1="289.70" y1="847.60" x2="289.70" y2="852.80" stroke="#000" stroke-width="1.4" />
<text x="289.70" y="862.90" font-size="8.8" text-anchor="middle" font-weight="bold" fill="#000" >0.1</text>
<line x1="332.80" y1="847.60" x2="332.80" y2="852.80" stroke="#000" stroke-width="1.4" />
<text x="332.80" y="862.90" font-size="8.8" text-anchor="middle" font-weight="bold" fill="#000" >1</text>
<line x1="230.90" y1="836.70" x2="352.50" y2="836.70" stroke="#000" stroke-width="1.6" stroke-dasharray="1.4 2.3"/>
<text x="290.00" y="708.10" font-size="11.6" text-anchor="middle" font-weight="bold" fill="#000" >BV-6</text>
<text x="290.00" y="878.40" font-size="10.3" text-anchor="middle" font-weight="bold" fill="#000" >Reo-CM MOI</text>
<line x1="238.30" y1="813.39" x2="238.30" y2="819.07" stroke="#6a6a6a" stroke-width="1.1" />
<path d="M235.50,808.74L238.45,813.94L232.55,813.94Z" fill="#000"/>
<path d="M241.20,812.84L244.15,818.04L238.25,818.04Z" fill="#000"/>
<path d="M238.30,818.54L241.25,823.74L235.35,823.74Z" fill="#000"/>
<line x1="235.60" y1="813.39" x2="241.00" y2="813.39" stroke="#222" stroke-width="1.0" />
<line x1="235.60" y1="819.07" x2="241.00" y2="819.07" stroke="#222" stroke-width="1.0" />
<line x1="233.00" y1="816.23" x2="243.60" y2="816.23" stroke="#000" stroke-width="1.5" />
<line x1="254.70" y1="816.11" x2="254.70" y2="821.35" stroke="#6a6a6a" stroke-width="1.1" />
<rect x="249.85" y="813.25" width="4.3" height="4.3" fill="none" stroke="#000" stroke-width="1.3"/>
<rect x="255.15" y="814.75" width="4.3" height="4.3" fill="none" stroke="#000" stroke-width="1.3"/>
<rect x="252.35" y="821.75" width="4.3" height="4.3" fill="none" stroke="#000" stroke-width="1.3"/>
<line x1="252.00" y1="816.11" x2="257.40" y2="816.11" stroke="#222" stroke-width="1.0" />
<line x1="252.00" y1="821.35" x2="257.40" y2="821.35" stroke="#222" stroke-width="1.0" />
<line x1="249.40" y1="818.73" x2="260.00" y2="818.73" stroke="#000" stroke-width="1.5" />
<line x1="281.50" y1="812.74" x2="281.50" y2="819.66" stroke="#6a6a6a" stroke-width="1.1" />
<path d="M281.40,806.44L284.35,811.64L278.45,811.64Z" fill="#000"/>
<path d="M278.60,817.24L281.55,822.44L275.65,822.44Z" fill="#000"/>
<path d="M284.30,816.34L287.25,821.54L281.35,821.54Z" fill="#000"/>
<line x1="278.80" y1="812.74" x2="284.20" y2="812.74" stroke="#222" stroke-width="1.0" />
<line x1="278.80" y1="819.66" x2="284.20" y2="819.66" stroke="#222" stroke-width="1.0" />
<line x1="276.20" y1="816.20" x2="286.80" y2="816.20" stroke="#000" stroke-width="1.5" />
<line x1="297.90" y1="818.37" x2="297.90" y2="820.50" stroke="#6a6a6a" stroke-width="1.1" />
<rect x="292.75" y="818.35" width="4.3" height="4.3" fill="none" stroke="#000" stroke-width="1.3"/>
<rect x="295.55" y="815.15" width="4.3" height="4.3" fill="none" stroke="#000" stroke-width="1.3"/>
<rect x="298.45" y="818.35" width="4.3" height="4.3" fill="none" stroke="#000" stroke-width="1.3"/>
<line x1="292.60" y1="819.43" x2="303.20" y2="819.43" stroke="#000" stroke-width="1.5" />
<line x1="324.60" y1="817.06" x2="324.60" y2="819.81" stroke="#6a6a6a" stroke-width="1.1" />
<path d="M321.80,812.84L324.75,818.04L318.85,818.04Z" fill="#000"/>
<path d="M321.80,817.24L324.75,822.44L318.85,822.44Z" fill="#000"/>
<path d="M327.50,816.64L330.45,821.84L324.55,821.84Z" fill="#000"/>
<line x1="321.90" y1="817.06" x2="327.30" y2="817.06" stroke="#222" stroke-width="1.0" />
<line x1="321.90" y1="819.81" x2="327.30" y2="819.81" stroke="#222" stroke-width="1.0" />
<line x1="319.30" y1="818.43" x2="329.90" y2="818.43" stroke="#000" stroke-width="1.5" />
<line x1="341.00" y1="809.99" x2="341.00" y2="814.41" stroke="#6a6a6a" stroke-width="1.1" />
<rect x="335.85" y="806.55" width="4.3" height="4.3" fill="none" stroke="#000" stroke-width="1.3"/>
<rect x="341.55" y="809.45" width="4.3" height="4.3" fill="none" stroke="#000" stroke-width="1.3"/>
<rect x="335.85" y="814.15" width="4.3" height="4.3" fill="none" stroke="#000" stroke-width="1.3"/>
<line x1="338.30" y1="809.99" x2="343.70" y2="809.99" stroke="#222" stroke-width="1.0" />
<line x1="338.30" y1="814.41" x2="343.70" y2="814.41" stroke="#222" stroke-width="1.0" />
<line x1="335.70" y1="812.20" x2="346.30" y2="812.20" stroke="#000" stroke-width="1.5" />
<line x1="394.40" y1="723.40" x2="394.40" y2="848.30" stroke="#000" stroke-width="1.7" />
<line x1="394.40" y1="847.60" x2="519.40" y2="847.60" stroke="#000" stroke-width="1.7" />
<line x1="389.60" y1="724.10" x2="394.40" y2="724.10" stroke="#000" stroke-width="1.4" />
<text x="387.20" y="727.25" font-size="8.8" text-anchor="end" font-weight="bold" fill="#000" >100</text>
<line x1="389.60" y1="746.58" x2="394.40" y2="746.58" stroke="#000" stroke-width="1.4" />
<text x="387.20" y="749.73" font-size="8.8" text-anchor="end" font-weight="bold" fill="#000" >80</text>
<line x1="389.60" y1="769.06" x2="394.40" y2="769.06" stroke="#000" stroke-width="1.4" />
<text x="387.20" y="772.21" font-size="8.8" text-anchor="end" font-weight="bold" fill="#000" >60</text>
<line x1="389.60" y1="791.54" x2="394.40" y2="791.54" stroke="#000" stroke-width="1.4" />
<text x="387.20" y="794.69" font-size="8.8" text-anchor="end" font-weight="bold" fill="#000" >40</text>
<line x1="389.60" y1="814.02" x2="394.40" y2="814.02" stroke="#000" stroke-width="1.4" />
<text x="387.20" y="817.17" font-size="8.8" text-anchor="end" font-weight="bold" fill="#000" >20</text>
<line x1="389.60" y1="836.50" x2="394.40" y2="836.50" stroke="#000" stroke-width="1.4" />
<text x="387.20" y="839.65" font-size="8.8" text-anchor="end" font-weight="bold" fill="#000" >0</text>
<line x1="413.40" y1="847.60" x2="413.40" y2="852.80" stroke="#000" stroke-width="1.4" />
<text x="413.40" y="862.90" font-size="8.8" text-anchor="middle" font-weight="bold" fill="#000" >0</text>
<line x1="456.60" y1="847.60" x2="456.60" y2="852.80" stroke="#000" stroke-width="1.4" />
<text x="456.60" y="862.90" font-size="8.8" text-anchor="middle" font-weight="bold" fill="#000" >0.1</text>
<line x1="499.70" y1="847.60" x2="499.70" y2="852.80" stroke="#000" stroke-width="1.4" />
<text x="499.70" y="862.90" font-size="8.8" text-anchor="middle" font-weight="bold" fill="#000" >1</text>
<line x1="397.80" y1="836.70" x2="519.40" y2="836.70" stroke="#000" stroke-width="1.6" stroke-dasharray="1.4 2.3"/>
<text x="457.65" y="708.10" font-size="11.6" text-anchor="middle" font-weight="bold" fill="#000" >ABT-263</text>
<text x="456.90" y="878.40" font-size="10.3" text-anchor="middle" font-weight="bold" fill="#000" >Reo-CM MOI</text>
<line x1="405.20" y1="813.39" x2="405.20" y2="819.07" stroke="#6a6a6a" stroke-width="1.1" />
<path d="M401.90,808.74L404.85,813.94L398.95,813.94Z" fill="#000"/>
<path d="M407.60,812.84L410.55,818.04L404.65,818.04Z" fill="#000"/>
<path d="M404.80,818.54L407.75,823.74L401.85,823.74Z" fill="#000"/>
<line x1="402.50" y1="813.39" x2="407.90" y2="813.39" stroke="#222" stroke-width="1.0" />
<line x1="402.50" y1="819.07" x2="407.90" y2="819.07" stroke="#222" stroke-width="1.0" />
<line x1="399.90" y1="816.23" x2="410.50" y2="816.23" stroke="#000" stroke-width="1.5" />
<line x1="421.60" y1="822.39" x2="421.60" y2="831.08" stroke="#6a6a6a" stroke-width="1.1" />
<circle cx="420.90" cy="818.20" r="2.1" fill="none" stroke="#a30000" stroke-width="1.3"/>
<circle cx="423.70" cy="829.60" r="2.1" fill="none" stroke="#a30000" stroke-width="1.3"/>
<circle cx="418.10" cy="832.40" r="2.1" fill="none" stroke="#a30000" stroke-width="1.3"/>
<line x1="418.90" y1="822.39" x2="424.30" y2="822.39" stroke="#222" stroke-width="1.0" />
<line x1="418.90" y1="831.08" x2="424.30" y2="831.08" stroke="#222" stroke-width="1.0" />
<line x1="416.30" y1="826.73" x2="426.90" y2="826.73" stroke="#000" stroke-width="1.5" />
<line x1="448.40" y1="813.06" x2="448.40" y2="819.80" stroke="#6a6a6a" stroke-width="1.1" />
<path d="M448.00,806.84L450.95,812.04L445.05,812.04Z" fill="#000"/>
<path d="M445.20,817.24L448.15,822.44L442.25,822.44Z" fill="#000"/>
<path d="M450.90,816.64L453.85,821.84L447.95,821.84Z" fill="#000"/>
<line x1="445.70" y1="813.06" x2="451.10" y2="813.06" stroke="#222" stroke-width="1.0" />
<line x1="445.70" y1="819.80" x2="451.10" y2="819.80" stroke="#222" stroke-width="1.0" />
<line x1="443.10" y1="816.43" x2="453.70" y2="816.43" stroke="#000" stroke-width="1.5" />
<line x1="464.80" y1="822.41" x2="464.80" y2="825.05" stroke="#6a6a6a" stroke-width="1.1" />
<circle cx="464.20" cy="821.10" r="2.1" fill="none" stroke="#a30000" stroke-width="1.3"/>
<circle cx="461.30" cy="825.20" r="2.1" fill="none" stroke="#a30000" stroke-width="1.3"/>
<circle cx="467.00" cy="824.90" r="2.1" fill="none" stroke="#a30000" stroke-width="1.3"/>
<line x1="462.10" y1="822.41" x2="467.50" y2="822.41" stroke="#222" stroke-width="1.0" />
<line x1="462.10" y1="825.05" x2="467.50" y2="825.05" stroke="#222" stroke-width="1.0" />
<line x1="459.50" y1="823.73" x2="470.10" y2="823.73" stroke="#000" stroke-width="1.5" />
<line x1="491.50" y1="817.13" x2="491.50" y2="820.14" stroke="#6a6a6a" stroke-width="1.1" />
<path d="M488.30,812.84L491.25,818.04L485.35,818.04Z" fill="#000"/>
<path d="M488.30,817.84L491.25,823.04L485.35,823.04Z" fill="#000"/>
<path d="M494.50,816.64L497.45,821.84L491.55,821.84Z" fill="#000"/>
<line x1="488.80" y1="817.13" x2="494.20" y2="817.13" stroke="#222" stroke-width="1.0" />
<line x1="488.80" y1="820.14" x2="494.20" y2="820.14" stroke="#222" stroke-width="1.0" />
<line x1="486.20" y1="818.63" x2="496.80" y2="818.63" stroke="#000" stroke-width="1.5" />
<line x1="507.90" y1="825.37" x2="507.90" y2="828.30" stroke="#6a6a6a" stroke-width="1.1" />
<circle cx="507.40" cy="823.90" r="2.1" fill="none" stroke="#a30000" stroke-width="1.3"/>
<circle cx="504.60" cy="828.30" r="2.1" fill="none" stroke="#a30000" stroke-width="1.3"/>
<circle cx="510.30" cy="828.30" r="2.1" fill="none" stroke="#a30000" stroke-width="1.3"/>
<line x1="505.20" y1="825.37" x2="510.60" y2="825.37" stroke="#222" stroke-width="1.0" />
<line x1="505.20" y1="828.30" x2="510.60" y2="828.30" stroke="#222" stroke-width="1.0" />
<line x1="502.60" y1="826.83" x2="513.20" y2="826.83" stroke="#000" stroke-width="1.5" />
<text x="0.20" y="688.20" font-size="14.3" text-anchor="start" font-weight="bold" fill="#000" >d:</text>
<text x="18.70" y="688.20" font-size="11.5" text-anchor="start" font-weight="bold" fill="#000" >Kasumi-1</text>
<path d="M581.40,720.20L585.50,727.80L577.30,727.80Z" fill="#000"/>
<text x="594.70" y="728.30" font-size="11.8" text-anchor="start" font-weight="normal" fill="#000" >– No Drug</text>
<rect x="577.25" y="746.25" width="8.7" height="8.7" fill="#000"/>
<text x="594.70" y="754.70" font-size="11.8" text-anchor="start" font-weight="normal" fill="#000" >+ LCL161</text>
<rect x="578.60" y="774.60" width="7.8" height="7.8" fill="none" stroke="#000" stroke-width="1.6"/>
<text x="596.00" y="782.10" font-size="11.8" text-anchor="start" font-weight="normal" fill="#000" >+ BV-6</text>
<circle cx="583.50" cy="804.30" r="4.0" fill="none" stroke="#a30000" stroke-width="1.8"/>
<text x="597.00" y="808.00" font-size="11.8" text-anchor="start" font-weight="normal" fill="#000" >+ ABT263</text>
<circle cx="583.80" cy="830.50" r="4.5" fill="#a30000"/>
<text x="597.00" y="834.70" font-size="11.8" text-anchor="start" font-weight="normal" fill="#000" >+ ABT199</text>
</svg>
</body></html>
